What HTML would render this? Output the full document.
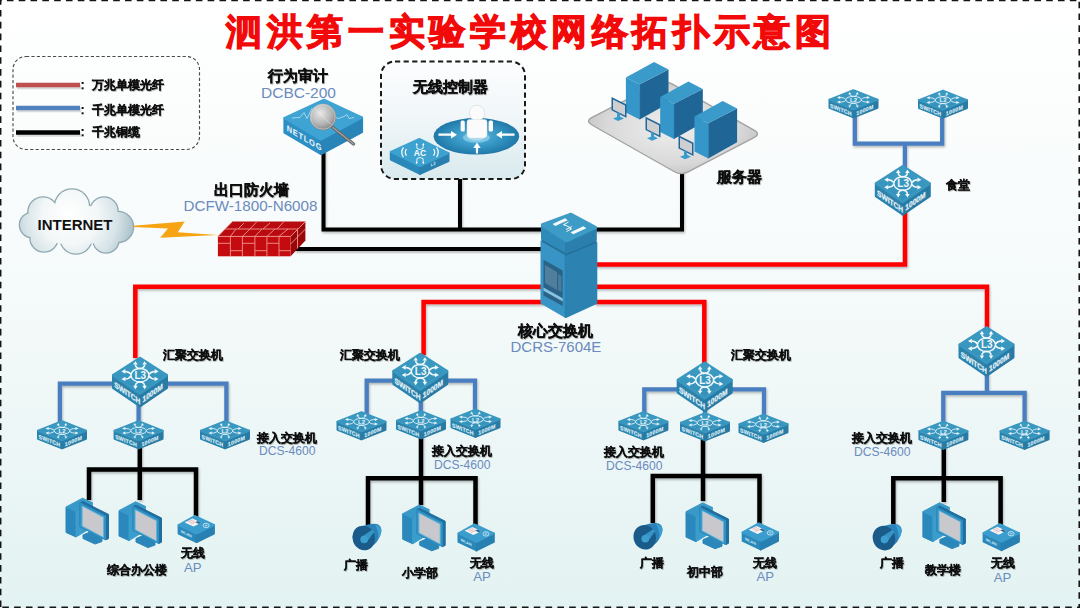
<!DOCTYPE html>
<html><head><meta charset="utf-8">
<style>
html,body{margin:0;padding:0;width:1080px;height:608px;overflow:hidden;background:#fff;}
svg{display:block;font-family:"Liberation Sans",sans-serif;}
.cn{font-weight:bold;fill:#111;stroke:#111;stroke-width:0.35px;filter:url(#tsh);}
.md{fill:#6b8abd;}
.s{stroke-width:0.25px;}
</style></head><body>
<svg width="1080" height="608" viewBox="0 0 1080 608">
<defs>
<linearGradient id="bg" x1="0" y1="0" x2="0" y2="1">
<stop offset="0" stop-color="#ffffff"/>
<stop offset="0.3" stop-color="#f9fcfc"/>
<stop offset="0.55" stop-color="#f3f9f9"/>
<stop offset="0.8" stop-color="#eaf5f5"/>
<stop offset="1" stop-color="#e3f2f2"/>
</linearGradient>
<linearGradient id="topg" x1="0" y1="0" x2="0" y2="1">
<stop offset="0" stop-color="#3e9dc4"/>
<stop offset="1" stop-color="#3290b9"/>
</linearGradient>
<radialGradient id="cloudg" cx="0.45" cy="0.45" r="0.6">
<stop offset="0" stop-color="#ffffff"/>
<stop offset="0.6" stop-color="#eef4f6"/>
<stop offset="1" stop-color="#b9ccd3"/>
</radialGradient>
<radialGradient id="cloudg2" gradientUnits="userSpaceOnUse" cx="72" cy="220" r="62" fx="68" fy="214">
<stop offset="0" stop-color="#ffffff"/>
<stop offset="0.45" stop-color="#f3f7f8"/>
<stop offset="0.75" stop-color="#d6e3e7"/>
<stop offset="1" stop-color="#a9c1c9"/>
</radialGradient>
<linearGradient id="wcg" x1="0" y1="0" x2="0" y2="1">
<stop offset="0" stop-color="#fcfdfe"/>
<stop offset="0.5" stop-color="#f0f6f8"/>
<stop offset="1" stop-color="#d9eaee"/>
</linearGradient>
<radialGradient id="sphere" cx="0.4" cy="0.35" r="0.7">
<stop offset="0" stop-color="#e8e8e8"/>
<stop offset="0.6" stop-color="#b5b5b5"/>
<stop offset="1" stop-color="#7d7d7d"/>
</radialGradient>
<radialGradient id="discg" cx="0.5" cy="0.5" r="0.5">
<stop offset="0" stop-color="#5fb8dc"/>
<stop offset="0.55" stop-color="#3596c4"/>
<stop offset="1" stop-color="#1f78a8"/>
</radialGradient>
<radialGradient id="platg" cx="0.5" cy="0.5" r="0.6">
<stop offset="0" stop-color="#efefef"/>
<stop offset="0.65" stop-color="#d9d9d9"/>
<stop offset="1" stop-color="#bcbcbc"/>
</radialGradient>
<filter id="lsh" x="-5%" y="-5%" width="110%" height="110%">
<feDropShadow dx="0.8" dy="1.6" stdDeviation="0.9" flood-color="#000" flood-opacity="0.28"/>
</filter>
<filter id="tsh" x="-10%" y="-20%" width="120%" height="150%">
<feDropShadow dx="0.7" dy="0.9" stdDeviation="0.7" flood-color="#000" flood-opacity="0.3"/>
</filter>
<marker id="ah" viewBox="0 0 4 4" refX="2" refY="2" markerWidth="2.6" markerHeight="2.6" orient="auto-start-reverse">
<path d="M0,0 L4,2 L0,4 Z" fill="#fff"/>
</marker>
<marker id="ah2" viewBox="0 0 4 4" refX="2" refY="2" markerWidth="2.8" markerHeight="2.8" orient="auto-start-reverse">
<path d="M0,0 L4,2 L0,4 Z" fill="#fff"/>
</marker>

<!-- L3 switch: origin at ellipse centre -->


<!-- L2 switch: origin at ellipse centre -->


<!-- PC: origin = bbox top-left, approx 43x46 -->


<!-- AP: origin = top-face centre -->


<!-- speaker: origin = bbox top-left approx 29x27 -->

</defs>

<rect x="0" y="0" width="1080" height="608" fill="url(#bg)"/>
<!-- title -->
<text x="226" y="43.7" font-size="36" font-weight="bold" letter-spacing="4.65" fill="#f20a0a" stroke="#f20a0a" stroke-width="1.3">泗洪第一实验学校网络拓扑示意图</text>

<!-- legend -->
<rect x="13" y="56.5" width="186.5" height="93" rx="13" fill="none" stroke="#4a4a4a" stroke-width="1.15" stroke-dasharray="3.2 2.2"/>
<g stroke-width="4.5">
<line x1="17" y1="87" x2="81" y2="87" stroke="#999" opacity="0.35"/>
<line x1="16" y1="85" x2="80" y2="85" stroke="#c0504d"/>
<line x1="17" y1="110" x2="81" y2="110" stroke="#999" opacity="0.35"/>
<line x1="16" y1="108" x2="80" y2="108" stroke="#4f81bd"/>
<line x1="17" y1="134.5" x2="81" y2="134.5" stroke="#999" opacity="0.35"/>
<line x1="16" y1="132.5" x2="80" y2="132.5" stroke="#000"/>
</g>
<g fill="#111">
<rect x="81.6" y="82" width="2" height="2"/><rect x="81.6" y="87.3" width="2" height="2"/>
<rect x="81.6" y="107" width="2" height="2"/><rect x="81.6" y="112.3" width="2" height="2"/>
<rect x="81.6" y="129" width="2" height="2"/><rect x="81.6" y="134.3" width="2" height="2"/>
</g>
<g class="cn s" font-size="12">
<text x="92" y="89">万兆单模光纤</text>
<text x="92" y="114">千兆单模光纤</text>
<text x="92" y="136">千兆铜缆</text>
</g>

<!-- lines black -->
<g stroke="#000" stroke-width="4" fill="none" filter="url(#lsh)">
<path d="M323.5,150 V229.5 H545"/>
<path d="M460,176 V229.5"/>
<path d="M295,249 H545"/>
<path d="M682,170 V229.5 H595"/>
</g>
<!-- red lines -->
<g stroke="#f00" stroke-width="4.5" fill="none" filter="url(#lsh)">
<path d="M595,264.4 H905 V200"/>
<path d="M545,286.8 H135.3 V358"/>
<path d="M595,286.8 H987 V330"/>
<path d="M545,302.1 H423.6 V355"/>
<path d="M595,302.1 H704.3 V365"/>
</g>
<!-- blue lines -->
<g stroke="#4a7ec0" stroke-width="4.3" fill="none" filter="url(#lsh)">
<path d="M854.8,100 V143.7 H942.2 V100"/>
<path d="M904.9,143.7 V175"/>
<path d="M59.9,428 V383.6 H226.4 V428"/>
<path d="M138.6,395 V428"/>
<path d="M366.7,419 V380.6 H475 V419"/>
<path d="M420.8,395 V419"/>
<path d="M644.3,419 V389.4 H764 V419"/>
<path d="M705,400 V419"/>
<path d="M943.3,428 V392.8 H1024.6 V428"/>
<path d="M986.9,370 V392.8"/>
</g>
<!-- black access lines -->
<g stroke="#000" stroke-width="4.5" fill="none" filter="url(#lsh)">
<path d="M89,500 V469.6 H196 V517"/>
<path d="M139.8,440 V500"/>
<path d="M368,525 V478.2 H475.5 V525"/>
<path d="M421,430 V505"/>
<path d="M652.8,523 V476 H759.5 V524"/>
<path d="M703,430 V501"/>
<path d="M893.3,524 V478.2 H1000.6 V525"/>
<path d="M943.8,440 V502"/>
</g>

<!-- cloud -->
<g>
<g fill="#8fa9b3">
<circle cx="43" cy="212" r="15.8"/><circle cx="72" cy="206.5" r="18.3"/><circle cx="104" cy="211" r="14.8"/><circle cx="118" cy="227" r="16.3"/><circle cx="106" cy="240" r="13.8"/><circle cx="76" cy="238" r="16.8"/><circle cx="44" cy="238" r="14.8"/><circle cx="32" cy="225" r="13.3"/>
</g>
<g fill="url(#cloudg2)">
<circle cx="43" cy="212" r="14.5"/><circle cx="72" cy="206.5" r="17"/><circle cx="104" cy="211" r="13.5"/><circle cx="118" cy="227" r="15"/><circle cx="106" cy="240" r="12.5"/><circle cx="76" cy="238" r="15.5"/><circle cx="44" cy="238" r="13.5"/><circle cx="32" cy="225" r="12"/><ellipse cx="76" cy="225" rx="44" ry="20"/>
</g>
</g>
<text font-size="15" font-weight="bold" x="37.5" y="230.2" fill="#111">INTERNET</text>
<!-- bolt -->
<path d="M133.3,225.7 L184.7,221.6 L177.8,232.2 L217.6,235 L160.2,237.8 L168,228.5 L133.3,226.9 Z" fill="#f6a413"/>

<!-- firewall -->
<g stroke-linejoin="round">
<path d="M217.9,236.4 L232.2,221.6 L305.4,221.6 L290.6,236.4 Z" fill="#b80a0f"/>
<path d="M290.6,236.4 L305.4,221.6 L305.4,240.5 L290.6,256.3 Z" fill="#9a0709"/>
<rect x="217.9" y="236.4" width="72.7" height="19.9" fill="#c30b10"/>
<g stroke="#f3938f" stroke-width="0.9" fill="none">
<path d="M217.9,236.4 H290.6 L305.4,221.6"/>
<path d="M230.4,236.4 V256.3 M242.4,236.4 V256.3 M254.9,236.4 V256.3 M266.9,236.4 V256.3 M279,236.4 V256.3"/>
<path d="M217.9,243.3 H230.4 M242.4,243.3 H254.9 M266.9,243.3 H279"/>
<path d="M230.4,250.7 H242.4 M254.9,250.7 H266.9 M279,250.7 H290.6"/>
<path d="M225,229 H298 M232.5,221.6 L217.9,236.4"/>
<path d="M244,223 L238,229 M257,221.6 L250,229 M270,223 L263,229 M284,221.6 L277,229"/>
<path d="M236,229 L230.4,236.4 M250,229 L242.4,236.4 M262,229 L254.9,236.4 M275,229 L266.9,236.4 M288,229 L279,236.4"/>
<path d="M297.5,229.5 V248.5 M290.6,244 L305.4,229"/>
</g>
</g>

<!-- NETLOG -->
<g stroke-linejoin="round" stroke-width="2.2">
<path d="M284.5,118 L321,139.5 L321,154 L284.5,132.5 Z" fill="#2d8fc4" stroke="#2d8fc4"/>
<path d="M362,117.5 L321,139.5 L321,154 L362,132 Z" fill="#2984b8" stroke="#2984b8"/>
<path d="M324,99.8 L362,117.5 L321,139.5 L284.5,118 Z" fill="#3fa3d3" stroke="#3fa3d3"/>
</g>
<path d="M292,118 L300,117.5 L304,112.5 L307,118.5 L312,108.5 L317,118.5 L330,114.5 L338,118.5 L344,116.5 L347,114.5 L349,118.5 L354,117.5" fill="none" stroke="#cfe9f5" stroke-width="0.7"/>
<text transform="matrix(0.862,0.507,0,1,284.5,118)" x="2.5" y="11.5" font-size="8.6" font-weight="bold" fill="#f2f8fb" letter-spacing="0.9">NETLOG</text>
<line x1="333" y1="127.5" x2="353.5" y2="144" stroke="#666" stroke-width="3.4" stroke-linecap="round"/>
<line x1="333" y1="127.5" x2="353.5" y2="144" stroke="#a5a5a5" stroke-width="1.2" stroke-linecap="round"/>
<circle cx="323" cy="117" r="13.2" fill="url(#sphere)"/>
<circle cx="323" cy="117" r="12.2" fill="none" stroke="#d9d9d9" stroke-width="0.8" opacity="0.7"/>
<path d="M314,107.5 L331,124.5" stroke="#eee" stroke-width="0.7" opacity="0.8"/>

<!-- wireless controller box -->
<rect x="381" y="61.5" width="144" height="117.5" rx="14" fill="url(#wcg)" stroke="#1a1a1a" stroke-width="2" stroke-dasharray="5.2 3.4"/>
<ellipse cx="476.4" cy="136.3" rx="42.8" ry="18.3" fill="url(#discg)"/>
<ellipse cx="476.4" cy="137.6" rx="13.5" ry="5.2" fill="#7cc6e6"/>
<ellipse cx="476.4" cy="137.6" rx="8" ry="3" fill="#a8daf0"/>
<circle cx="477" cy="113" r="7.8" fill="#fbfbfb" stroke="#cfd6d9" stroke-width="0.6"/>
<path d="M469.5,119.5 H484.5 Q487,119.5 487,122 V134.5 Q487,138 483,138 H470.5 Q467,138 467,134.5 V122 Q467,119.5 469.5,119.5 Z" fill="#fbfbfb" stroke="#d5dcdf" stroke-width="0.5"/>
<rect x="460.6" y="120.5" width="4.2" height="11" rx="1.6" fill="#fbfbfb"/>
<rect x="488.6" y="120.5" width="4.4" height="11" rx="1.6" fill="#fbfbfb"/>
<g fill="#fff">
<path d="M438.5,133.6 H451 V131 L457,134.7 L451,138.4 V135.8 H438.5 Z"/>
<path d="M514.5,133.6 H502 V131 L496,134.7 L502,138.4 V135.8 H514.5 Z"/>
<path d="M475.9,153.5 V148 H473.3 L477,142.5 L480.7,148 H478.1 V153.5 Z"/>
</g>
<g stroke-linejoin="round" stroke-width="2">
<path d="M390.8,151.9 L420,166.1 L420,173.9 L390.8,159.6 Z" fill="#2b88ba" stroke="#2b88ba"/>
<path d="M448.5,153.2 L420,166.1 L420,173.9 L448.5,161 Z" fill="#2980b0" stroke="#2980b0"/>
<path d="M419.4,138.9 L448.5,153.2 L420,166.1 L390.8,151.9 Z" fill="#3ea2d0" stroke="#3ea2d0"/>
</g>
<text x="420" y="156" font-size="8.5" font-weight="bold" fill="#fff" text-anchor="middle">AC</text>
<g fill="none" stroke="#fff" stroke-width="1.2">
<path d="M406.5,149 Q404,152.3 406.5,155.6 M403.5,147.4 Q400,152.3 403.5,157.2"/>
<path d="M433.5,149 Q436,152.3 433.5,155.6 M436.5,147.4 Q440,152.3 436.5,157.2"/>
</g>
<g fill="none" stroke="#fff" stroke-width="0.9" marker-end="url(#ah)">
<path d="M417,148.5 Q417,146 416.5,144"/><path d="M423,148.5 Q423,146 423.5,144"/>
<path d="M417,158.5 Q417,161 416.5,163"/><path d="M423,158.5 Q423,161 423.5,163"/>
</g>
<path d="M417,148.5 Q420,150.5 423,148.5 M417,158.5 Q420,156.5 423,158.5" fill="none" stroke="#fff" stroke-width="0.9"/>
<text transform="matrix(0.9,-0.44,0,1,420,166)" x="12" y="6" font-size="4.5" font-weight="bold" fill="#d8ecf5">L3</text>

<!-- servers platform -->
<path d="M592,125 L674,171.5 Q681,175.5 688.1,171.8 L753.9,137.7 Q761,134 754,130.1 L672,83.9 Q665,80 657.9,83.6 L592.1,117.4 Q585,121 592,125 Z" fill="url(#platg)" stroke="#a2a2a2" stroke-width="1.3"/>
<g>
<path d="M625.9,77.4 L639.7,84.3 L639.7,119.4 L625.9,112.5 Z" fill="#3597c9"/>
<path d="M639.7,84.3 L668.5,69.4 L668.5,103.3 L639.7,119.4 Z" fill="#1f6696"/>
<path d="M625.9,77.4 L654.1,61.9 L668.5,69.4 L639.7,84.3 Z" fill="#3a9bcb"/>
<path d="M639.7,84.3 L639.7,119.4" stroke="#2a7fb0" stroke-width="0.6"/>
</g>
<g transform="translate(34.3,19.5)">
<path d="M625.9,77.4 L639.7,84.3 L639.7,119.4 L625.9,112.5 Z" fill="#3597c9"/>
<path d="M639.7,84.3 L668.5,69.4 L668.5,103.3 L639.7,119.4 Z" fill="#1f6696"/>
<path d="M625.9,77.4 L654.1,61.9 L668.5,69.4 L639.7,84.3 Z" fill="#3a9bcb"/>
<path d="M639.7,84.3 L639.7,119.4" stroke="#2a7fb0" stroke-width="0.6"/>
</g>
<g transform="translate(68.6,39)">
<path d="M625.9,77.4 L639.7,84.3 L639.7,119.4 L625.9,112.5 Z" fill="#3597c9"/>
<path d="M639.7,84.3 L668.5,69.4 L668.5,103.3 L639.7,119.4 Z" fill="#1f6696"/>
<path d="M625.9,77.4 L654.1,61.9 L668.5,69.4 L639.7,84.3 Z" fill="#3a9bcb"/>
<path d="M639.7,84.3 L639.7,119.4" stroke="#2a7fb0" stroke-width="0.6"/>
</g>
<g>
<path d="M611.5,97 L626.5,104.5 L626.5,117.7 L611.5,110.2 Z" fill="#20679a"/>
<path d="M613,99.5 L625,105.5 L625,115.5 L613,109.5 Z" fill="#cfcfd2"/>
<path d="M616,111.5 L620,113.5 L620,116.5 L624,118.5 L618,121 L613,118.5 L617,117 L617,112 Z" fill="#3a9ccc"/>
</g>
<g transform="translate(34,19.7)">
<path d="M611.5,97 L626.5,104.5 L626.5,117.7 L611.5,110.2 Z" fill="#20679a"/>
<path d="M613,99.5 L625,105.5 L625,115.5 L613,109.5 Z" fill="#cfcfd2"/>
<path d="M616,111.5 L620,113.5 L620,116.5 L624,118.5 L618,121 L613,118.5 L617,117 L617,112 Z" fill="#3a9ccc"/>
</g>
<g transform="translate(67,38.2)">
<path d="M611.5,97 L626.5,104.5 L626.5,117.7 L611.5,110.2 Z" fill="#20679a"/>
<path d="M613,99.5 L625,105.5 L625,115.5 L613,109.5 Z" fill="#cfcfd2"/>
<path d="M616,111.5 L620,113.5 L620,116.5 L624,118.5 L618,121 L613,118.5 L617,117 L617,112 Z" fill="#3a9ccc"/>
</g>

<!-- core switch -->
<g stroke-linejoin="round">
<path d="M541.5,241.5 L565.6,255 L565.6,317 L541.5,303 Z" fill="#3894c4" stroke="#3894c4" stroke-width="2"/>
<path d="M596.3,242.5 L565.6,255 L565.6,317 L596.3,303 Z" fill="#2c83b2" stroke="#2c83b2" stroke-width="2"/>
<path d="M543.5,259.8 L562.7,270.6 L562.7,306 L543.5,295.4 Z" fill="#2a6288"/>
<path d="M545,265 L557,272 L557,290 L545,283 Z" fill="#6b93ad" opacity="0.6"/>
<path d="M558,274 L561.5,276 L561.5,292 L558,290 Z" fill="#6b93ad" opacity="0.5"/>
<path d="M543.5,287.5 L562.7,298.2 L562.7,301.5 L543.5,290.8 Z" fill="#86c3e0"/>
<path d="M541.5,238 L566,252 L596.3,240 L596.3,243 L566,255.5 L541.5,241.5 Z" fill="#24709a"/>
<path d="M542.5,225 L566.5,240.6 L566.5,252 L542.5,238.5 Z" fill="#2f8aba" stroke="#2f8aba" stroke-width="3"/>
<path d="M595.3,227.5 L566.5,240.6 L566.5,252 L595.3,240 Z" fill="#2a7fad" stroke="#2a7fad" stroke-width="3"/>
<path d="M571,214.5 L595.3,227.5 L566.5,240.6 L542.5,225 Z" fill="#3d9cc6" stroke="#3d9cc6" stroke-width="3.5"/>
</g>
<g fill="#f4f8fa">
<path d="M552.5,224 L565,218.2 L567.8,220.2 L555.3,226 Z"/>
<path d="M570.5,232.3 L583.5,226.2 L586.3,228.2 L573.3,234.3 Z"/>
</g>
<g stroke="#f4f8fa" stroke-width="1" fill="none">
<path d="M564,224.5 L570,227.5 M566,229.5 L572,226.5"/>
<path d="M568.5,222 L563.5,224.7 L565.5,225.5 M566.5,231.5 L571.5,229 L569.5,228"/>
</g>

<!-- switches -->
<g transform="translate(853.5,99.8)">
<g stroke-linejoin="round" stroke-width="2">
<path d="M-24,0 L0,9.5 L0,17.5 L-24,8 Z" fill="#2b82ab" stroke="#2b82ab"/>
<path d="M24,0 L0,9.5 L0,17.5 L24,8 Z" fill="#287ba4" stroke="#287ba4"/>
<path d="M0,-9.5 L24,0 L0,9.5 L-24,0 Z" fill="url(#topg)" stroke="#3a98c0"/>
</g>
<g transform=""><g fill="none" stroke="#e8f4fa" stroke-width="0.9"><path d="M0,-3.4 C-2,-3.6 -3.8,-4.4 -3.8,-5.8"/><path d="M-7.8,-0.5 C-9,-1.8 -11,-2.3 -13.5,-2.3"/></g><g fill="#e8f4fa"><path d="M-3.8,-7.8 L-5.3,-5.6 L-2.3,-5.6 Z"/><path d="M-16.5,-2.3 L-13.3,-3.8 L-13.3,-0.8 Z"/></g></g>
<g transform="scale(-1,1)"><g fill="none" stroke="#e8f4fa" stroke-width="0.9"><path d="M0,-3.4 C-2,-3.6 -3.8,-4.4 -3.8,-5.8"/><path d="M-7.8,-0.5 C-9,-1.8 -11,-2.3 -13.5,-2.3"/></g><g fill="#e8f4fa"><path d="M-3.8,-7.8 L-5.3,-5.6 L-2.3,-5.6 Z"/><path d="M-16.5,-2.3 L-13.3,-3.8 L-13.3,-0.8 Z"/></g></g>
<g transform="scale(1,-1)"><g fill="none" stroke="#e8f4fa" stroke-width="0.9"><path d="M0,-3.4 C-2,-3.6 -3.8,-4.4 -3.8,-5.8"/><path d="M-7.8,-0.5 C-9,-1.8 -11,-2.3 -13.5,-2.3"/></g><g fill="#e8f4fa"><path d="M-3.8,-7.8 L-5.3,-5.6 L-2.3,-5.6 Z"/><path d="M-16.5,-2.3 L-13.3,-3.8 L-13.3,-0.8 Z"/></g></g>
<g transform="scale(-1,-1)"><g fill="none" stroke="#e8f4fa" stroke-width="0.9"><path d="M0,-3.4 C-2,-3.6 -3.8,-4.4 -3.8,-5.8"/><path d="M-7.8,-0.5 C-9,-1.8 -11,-2.3 -13.5,-2.3"/></g><g fill="#e8f4fa"><path d="M-3.8,-7.8 L-5.3,-5.6 L-2.3,-5.6 Z"/><path d="M-16.5,-2.3 L-13.3,-3.8 L-13.3,-0.8 Z"/></g></g>
<ellipse cx="0" cy="0" rx="7.8" ry="3.4" fill="none" stroke="#e8f4fa" stroke-width="0.9"/>
<text x="0" y="2.2" font-size="6" font-weight="bold" fill="#e8f4fa" text-anchor="middle">L2</text>
<text transform="matrix(0.930,0.368,0,1,-24.5,0)" x="1.2" y="7.2" font-size="5.6" font-weight="bold" letter-spacing="0.2" fill="#dcedf6" stroke="#dcedf6" stroke-width="0.15">SWITCH</text>
<text transform="matrix(0.930,-0.368,0,1,0,9.5)" x="3" y="7.2" font-size="5.6" font-weight="bold" letter-spacing="0.3" fill="#dcedf6" stroke="#dcedf6" stroke-width="0.15">1000M</text>
</g>
<g transform="translate(943,100.1)">
<g stroke-linejoin="round" stroke-width="2">
<path d="M-24,0 L0,9.5 L0,17.5 L-24,8 Z" fill="#2b82ab" stroke="#2b82ab"/>
<path d="M24,0 L0,9.5 L0,17.5 L24,8 Z" fill="#287ba4" stroke="#287ba4"/>
<path d="M0,-9.5 L24,0 L0,9.5 L-24,0 Z" fill="url(#topg)" stroke="#3a98c0"/>
</g>
<g transform=""><g fill="none" stroke="#e8f4fa" stroke-width="0.9"><path d="M0,-3.4 C-2,-3.6 -3.8,-4.4 -3.8,-5.8"/><path d="M-7.8,-0.5 C-9,-1.8 -11,-2.3 -13.5,-2.3"/></g><g fill="#e8f4fa"><path d="M-3.8,-7.8 L-5.3,-5.6 L-2.3,-5.6 Z"/><path d="M-16.5,-2.3 L-13.3,-3.8 L-13.3,-0.8 Z"/></g></g>
<g transform="scale(-1,1)"><g fill="none" stroke="#e8f4fa" stroke-width="0.9"><path d="M0,-3.4 C-2,-3.6 -3.8,-4.4 -3.8,-5.8"/><path d="M-7.8,-0.5 C-9,-1.8 -11,-2.3 -13.5,-2.3"/></g><g fill="#e8f4fa"><path d="M-3.8,-7.8 L-5.3,-5.6 L-2.3,-5.6 Z"/><path d="M-16.5,-2.3 L-13.3,-3.8 L-13.3,-0.8 Z"/></g></g>
<g transform="scale(1,-1)"><g fill="none" stroke="#e8f4fa" stroke-width="0.9"><path d="M0,-3.4 C-2,-3.6 -3.8,-4.4 -3.8,-5.8"/><path d="M-7.8,-0.5 C-9,-1.8 -11,-2.3 -13.5,-2.3"/></g><g fill="#e8f4fa"><path d="M-3.8,-7.8 L-5.3,-5.6 L-2.3,-5.6 Z"/><path d="M-16.5,-2.3 L-13.3,-3.8 L-13.3,-0.8 Z"/></g></g>
<g transform="scale(-1,-1)"><g fill="none" stroke="#e8f4fa" stroke-width="0.9"><path d="M0,-3.4 C-2,-3.6 -3.8,-4.4 -3.8,-5.8"/><path d="M-7.8,-0.5 C-9,-1.8 -11,-2.3 -13.5,-2.3"/></g><g fill="#e8f4fa"><path d="M-3.8,-7.8 L-5.3,-5.6 L-2.3,-5.6 Z"/><path d="M-16.5,-2.3 L-13.3,-3.8 L-13.3,-0.8 Z"/></g></g>
<ellipse cx="0" cy="0" rx="7.8" ry="3.4" fill="none" stroke="#e8f4fa" stroke-width="0.9"/>
<text x="0" y="2.2" font-size="6" font-weight="bold" fill="#e8f4fa" text-anchor="middle">L2</text>
<text transform="matrix(0.930,0.368,0,1,-24.5,0)" x="1.2" y="7.2" font-size="5.6" font-weight="bold" letter-spacing="0.2" fill="#dcedf6" stroke="#dcedf6" stroke-width="0.15">SWITCH</text>
<text transform="matrix(0.930,-0.368,0,1,0,9.5)" x="3" y="7.2" font-size="5.6" font-weight="bold" letter-spacing="0.3" fill="#dcedf6" stroke="#dcedf6" stroke-width="0.15">1000M</text>
</g>
<g transform="translate(62,430.8)">
<g stroke-linejoin="round" stroke-width="2">
<path d="M-24,0 L0,9.5 L0,17.5 L-24,8 Z" fill="#2b82ab" stroke="#2b82ab"/>
<path d="M24,0 L0,9.5 L0,17.5 L24,8 Z" fill="#287ba4" stroke="#287ba4"/>
<path d="M0,-9.5 L24,0 L0,9.5 L-24,0 Z" fill="url(#topg)" stroke="#3a98c0"/>
</g>
<g transform=""><g fill="none" stroke="#e8f4fa" stroke-width="0.9"><path d="M0,-3.4 C-2,-3.6 -3.8,-4.4 -3.8,-5.8"/><path d="M-7.8,-0.5 C-9,-1.8 -11,-2.3 -13.5,-2.3"/></g><g fill="#e8f4fa"><path d="M-3.8,-7.8 L-5.3,-5.6 L-2.3,-5.6 Z"/><path d="M-16.5,-2.3 L-13.3,-3.8 L-13.3,-0.8 Z"/></g></g>
<g transform="scale(-1,1)"><g fill="none" stroke="#e8f4fa" stroke-width="0.9"><path d="M0,-3.4 C-2,-3.6 -3.8,-4.4 -3.8,-5.8"/><path d="M-7.8,-0.5 C-9,-1.8 -11,-2.3 -13.5,-2.3"/></g><g fill="#e8f4fa"><path d="M-3.8,-7.8 L-5.3,-5.6 L-2.3,-5.6 Z"/><path d="M-16.5,-2.3 L-13.3,-3.8 L-13.3,-0.8 Z"/></g></g>
<g transform="scale(1,-1)"><g fill="none" stroke="#e8f4fa" stroke-width="0.9"><path d="M0,-3.4 C-2,-3.6 -3.8,-4.4 -3.8,-5.8"/><path d="M-7.8,-0.5 C-9,-1.8 -11,-2.3 -13.5,-2.3"/></g><g fill="#e8f4fa"><path d="M-3.8,-7.8 L-5.3,-5.6 L-2.3,-5.6 Z"/><path d="M-16.5,-2.3 L-13.3,-3.8 L-13.3,-0.8 Z"/></g></g>
<g transform="scale(-1,-1)"><g fill="none" stroke="#e8f4fa" stroke-width="0.9"><path d="M0,-3.4 C-2,-3.6 -3.8,-4.4 -3.8,-5.8"/><path d="M-7.8,-0.5 C-9,-1.8 -11,-2.3 -13.5,-2.3"/></g><g fill="#e8f4fa"><path d="M-3.8,-7.8 L-5.3,-5.6 L-2.3,-5.6 Z"/><path d="M-16.5,-2.3 L-13.3,-3.8 L-13.3,-0.8 Z"/></g></g>
<ellipse cx="0" cy="0" rx="7.8" ry="3.4" fill="none" stroke="#e8f4fa" stroke-width="0.9"/>
<text x="0" y="2.2" font-size="6" font-weight="bold" fill="#e8f4fa" text-anchor="middle">L2</text>
<text transform="matrix(0.930,0.368,0,1,-24.5,0)" x="1.2" y="7.2" font-size="5.6" font-weight="bold" letter-spacing="0.2" fill="#dcedf6" stroke="#dcedf6" stroke-width="0.15">SWITCH</text>
<text transform="matrix(0.930,-0.368,0,1,0,9.5)" x="3" y="7.2" font-size="5.6" font-weight="bold" letter-spacing="0.3" fill="#dcedf6" stroke="#dcedf6" stroke-width="0.15">1000M</text>
</g>
<g transform="translate(138.6,430.8)">
<g stroke-linejoin="round" stroke-width="2">
<path d="M-24,0 L0,9.5 L0,17.5 L-24,8 Z" fill="#2b82ab" stroke="#2b82ab"/>
<path d="M24,0 L0,9.5 L0,17.5 L24,8 Z" fill="#287ba4" stroke="#287ba4"/>
<path d="M0,-9.5 L24,0 L0,9.5 L-24,0 Z" fill="url(#topg)" stroke="#3a98c0"/>
</g>
<g transform=""><g fill="none" stroke="#e8f4fa" stroke-width="0.9"><path d="M0,-3.4 C-2,-3.6 -3.8,-4.4 -3.8,-5.8"/><path d="M-7.8,-0.5 C-9,-1.8 -11,-2.3 -13.5,-2.3"/></g><g fill="#e8f4fa"><path d="M-3.8,-7.8 L-5.3,-5.6 L-2.3,-5.6 Z"/><path d="M-16.5,-2.3 L-13.3,-3.8 L-13.3,-0.8 Z"/></g></g>
<g transform="scale(-1,1)"><g fill="none" stroke="#e8f4fa" stroke-width="0.9"><path d="M0,-3.4 C-2,-3.6 -3.8,-4.4 -3.8,-5.8"/><path d="M-7.8,-0.5 C-9,-1.8 -11,-2.3 -13.5,-2.3"/></g><g fill="#e8f4fa"><path d="M-3.8,-7.8 L-5.3,-5.6 L-2.3,-5.6 Z"/><path d="M-16.5,-2.3 L-13.3,-3.8 L-13.3,-0.8 Z"/></g></g>
<g transform="scale(1,-1)"><g fill="none" stroke="#e8f4fa" stroke-width="0.9"><path d="M0,-3.4 C-2,-3.6 -3.8,-4.4 -3.8,-5.8"/><path d="M-7.8,-0.5 C-9,-1.8 -11,-2.3 -13.5,-2.3"/></g><g fill="#e8f4fa"><path d="M-3.8,-7.8 L-5.3,-5.6 L-2.3,-5.6 Z"/><path d="M-16.5,-2.3 L-13.3,-3.8 L-13.3,-0.8 Z"/></g></g>
<g transform="scale(-1,-1)"><g fill="none" stroke="#e8f4fa" stroke-width="0.9"><path d="M0,-3.4 C-2,-3.6 -3.8,-4.4 -3.8,-5.8"/><path d="M-7.8,-0.5 C-9,-1.8 -11,-2.3 -13.5,-2.3"/></g><g fill="#e8f4fa"><path d="M-3.8,-7.8 L-5.3,-5.6 L-2.3,-5.6 Z"/><path d="M-16.5,-2.3 L-13.3,-3.8 L-13.3,-0.8 Z"/></g></g>
<ellipse cx="0" cy="0" rx="7.8" ry="3.4" fill="none" stroke="#e8f4fa" stroke-width="0.9"/>
<text x="0" y="2.2" font-size="6" font-weight="bold" fill="#e8f4fa" text-anchor="middle">L2</text>
<text transform="matrix(0.930,0.368,0,1,-24.5,0)" x="1.2" y="7.2" font-size="5.6" font-weight="bold" letter-spacing="0.2" fill="#dcedf6" stroke="#dcedf6" stroke-width="0.15">SWITCH</text>
<text transform="matrix(0.930,-0.368,0,1,0,9.5)" x="3" y="7.2" font-size="5.6" font-weight="bold" letter-spacing="0.3" fill="#dcedf6" stroke="#dcedf6" stroke-width="0.15">1000M</text>
</g>
<g transform="translate(225,430.8)">
<g stroke-linejoin="round" stroke-width="2">
<path d="M-24,0 L0,9.5 L0,17.5 L-24,8 Z" fill="#2b82ab" stroke="#2b82ab"/>
<path d="M24,0 L0,9.5 L0,17.5 L24,8 Z" fill="#287ba4" stroke="#287ba4"/>
<path d="M0,-9.5 L24,0 L0,9.5 L-24,0 Z" fill="url(#topg)" stroke="#3a98c0"/>
</g>
<g transform=""><g fill="none" stroke="#e8f4fa" stroke-width="0.9"><path d="M0,-3.4 C-2,-3.6 -3.8,-4.4 -3.8,-5.8"/><path d="M-7.8,-0.5 C-9,-1.8 -11,-2.3 -13.5,-2.3"/></g><g fill="#e8f4fa"><path d="M-3.8,-7.8 L-5.3,-5.6 L-2.3,-5.6 Z"/><path d="M-16.5,-2.3 L-13.3,-3.8 L-13.3,-0.8 Z"/></g></g>
<g transform="scale(-1,1)"><g fill="none" stroke="#e8f4fa" stroke-width="0.9"><path d="M0,-3.4 C-2,-3.6 -3.8,-4.4 -3.8,-5.8"/><path d="M-7.8,-0.5 C-9,-1.8 -11,-2.3 -13.5,-2.3"/></g><g fill="#e8f4fa"><path d="M-3.8,-7.8 L-5.3,-5.6 L-2.3,-5.6 Z"/><path d="M-16.5,-2.3 L-13.3,-3.8 L-13.3,-0.8 Z"/></g></g>
<g transform="scale(1,-1)"><g fill="none" stroke="#e8f4fa" stroke-width="0.9"><path d="M0,-3.4 C-2,-3.6 -3.8,-4.4 -3.8,-5.8"/><path d="M-7.8,-0.5 C-9,-1.8 -11,-2.3 -13.5,-2.3"/></g><g fill="#e8f4fa"><path d="M-3.8,-7.8 L-5.3,-5.6 L-2.3,-5.6 Z"/><path d="M-16.5,-2.3 L-13.3,-3.8 L-13.3,-0.8 Z"/></g></g>
<g transform="scale(-1,-1)"><g fill="none" stroke="#e8f4fa" stroke-width="0.9"><path d="M0,-3.4 C-2,-3.6 -3.8,-4.4 -3.8,-5.8"/><path d="M-7.8,-0.5 C-9,-1.8 -11,-2.3 -13.5,-2.3"/></g><g fill="#e8f4fa"><path d="M-3.8,-7.8 L-5.3,-5.6 L-2.3,-5.6 Z"/><path d="M-16.5,-2.3 L-13.3,-3.8 L-13.3,-0.8 Z"/></g></g>
<ellipse cx="0" cy="0" rx="7.8" ry="3.4" fill="none" stroke="#e8f4fa" stroke-width="0.9"/>
<text x="0" y="2.2" font-size="6" font-weight="bold" fill="#e8f4fa" text-anchor="middle">L2</text>
<text transform="matrix(0.930,0.368,0,1,-24.5,0)" x="1.2" y="7.2" font-size="5.6" font-weight="bold" letter-spacing="0.2" fill="#dcedf6" stroke="#dcedf6" stroke-width="0.15">SWITCH</text>
<text transform="matrix(0.930,-0.368,0,1,0,9.5)" x="3" y="7.2" font-size="5.6" font-weight="bold" letter-spacing="0.3" fill="#dcedf6" stroke="#dcedf6" stroke-width="0.15">1000M</text>
</g>
<g transform="translate(361.5,421.8)">
<g stroke-linejoin="round" stroke-width="2">
<path d="M-24,0 L0,9.5 L0,17.5 L-24,8 Z" fill="#2b82ab" stroke="#2b82ab"/>
<path d="M24,0 L0,9.5 L0,17.5 L24,8 Z" fill="#287ba4" stroke="#287ba4"/>
<path d="M0,-9.5 L24,0 L0,9.5 L-24,0 Z" fill="url(#topg)" stroke="#3a98c0"/>
</g>
<g transform=""><g fill="none" stroke="#e8f4fa" stroke-width="0.9"><path d="M0,-3.4 C-2,-3.6 -3.8,-4.4 -3.8,-5.8"/><path d="M-7.8,-0.5 C-9,-1.8 -11,-2.3 -13.5,-2.3"/></g><g fill="#e8f4fa"><path d="M-3.8,-7.8 L-5.3,-5.6 L-2.3,-5.6 Z"/><path d="M-16.5,-2.3 L-13.3,-3.8 L-13.3,-0.8 Z"/></g></g>
<g transform="scale(-1,1)"><g fill="none" stroke="#e8f4fa" stroke-width="0.9"><path d="M0,-3.4 C-2,-3.6 -3.8,-4.4 -3.8,-5.8"/><path d="M-7.8,-0.5 C-9,-1.8 -11,-2.3 -13.5,-2.3"/></g><g fill="#e8f4fa"><path d="M-3.8,-7.8 L-5.3,-5.6 L-2.3,-5.6 Z"/><path d="M-16.5,-2.3 L-13.3,-3.8 L-13.3,-0.8 Z"/></g></g>
<g transform="scale(1,-1)"><g fill="none" stroke="#e8f4fa" stroke-width="0.9"><path d="M0,-3.4 C-2,-3.6 -3.8,-4.4 -3.8,-5.8"/><path d="M-7.8,-0.5 C-9,-1.8 -11,-2.3 -13.5,-2.3"/></g><g fill="#e8f4fa"><path d="M-3.8,-7.8 L-5.3,-5.6 L-2.3,-5.6 Z"/><path d="M-16.5,-2.3 L-13.3,-3.8 L-13.3,-0.8 Z"/></g></g>
<g transform="scale(-1,-1)"><g fill="none" stroke="#e8f4fa" stroke-width="0.9"><path d="M0,-3.4 C-2,-3.6 -3.8,-4.4 -3.8,-5.8"/><path d="M-7.8,-0.5 C-9,-1.8 -11,-2.3 -13.5,-2.3"/></g><g fill="#e8f4fa"><path d="M-3.8,-7.8 L-5.3,-5.6 L-2.3,-5.6 Z"/><path d="M-16.5,-2.3 L-13.3,-3.8 L-13.3,-0.8 Z"/></g></g>
<ellipse cx="0" cy="0" rx="7.8" ry="3.4" fill="none" stroke="#e8f4fa" stroke-width="0.9"/>
<text x="0" y="2.2" font-size="6" font-weight="bold" fill="#e8f4fa" text-anchor="middle">L2</text>
<text transform="matrix(0.930,0.368,0,1,-24.5,0)" x="1.2" y="7.2" font-size="5.6" font-weight="bold" letter-spacing="0.2" fill="#dcedf6" stroke="#dcedf6" stroke-width="0.15">SWITCH</text>
<text transform="matrix(0.930,-0.368,0,1,0,9.5)" x="3" y="7.2" font-size="5.6" font-weight="bold" letter-spacing="0.3" fill="#dcedf6" stroke="#dcedf6" stroke-width="0.15">1000M</text>
</g>
<g transform="translate(421,420.8)">
<g stroke-linejoin="round" stroke-width="2">
<path d="M-24,0 L0,9.5 L0,17.5 L-24,8 Z" fill="#2b82ab" stroke="#2b82ab"/>
<path d="M24,0 L0,9.5 L0,17.5 L24,8 Z" fill="#287ba4" stroke="#287ba4"/>
<path d="M0,-9.5 L24,0 L0,9.5 L-24,0 Z" fill="url(#topg)" stroke="#3a98c0"/>
</g>
<g transform=""><g fill="none" stroke="#e8f4fa" stroke-width="0.9"><path d="M0,-3.4 C-2,-3.6 -3.8,-4.4 -3.8,-5.8"/><path d="M-7.8,-0.5 C-9,-1.8 -11,-2.3 -13.5,-2.3"/></g><g fill="#e8f4fa"><path d="M-3.8,-7.8 L-5.3,-5.6 L-2.3,-5.6 Z"/><path d="M-16.5,-2.3 L-13.3,-3.8 L-13.3,-0.8 Z"/></g></g>
<g transform="scale(-1,1)"><g fill="none" stroke="#e8f4fa" stroke-width="0.9"><path d="M0,-3.4 C-2,-3.6 -3.8,-4.4 -3.8,-5.8"/><path d="M-7.8,-0.5 C-9,-1.8 -11,-2.3 -13.5,-2.3"/></g><g fill="#e8f4fa"><path d="M-3.8,-7.8 L-5.3,-5.6 L-2.3,-5.6 Z"/><path d="M-16.5,-2.3 L-13.3,-3.8 L-13.3,-0.8 Z"/></g></g>
<g transform="scale(1,-1)"><g fill="none" stroke="#e8f4fa" stroke-width="0.9"><path d="M0,-3.4 C-2,-3.6 -3.8,-4.4 -3.8,-5.8"/><path d="M-7.8,-0.5 C-9,-1.8 -11,-2.3 -13.5,-2.3"/></g><g fill="#e8f4fa"><path d="M-3.8,-7.8 L-5.3,-5.6 L-2.3,-5.6 Z"/><path d="M-16.5,-2.3 L-13.3,-3.8 L-13.3,-0.8 Z"/></g></g>
<g transform="scale(-1,-1)"><g fill="none" stroke="#e8f4fa" stroke-width="0.9"><path d="M0,-3.4 C-2,-3.6 -3.8,-4.4 -3.8,-5.8"/><path d="M-7.8,-0.5 C-9,-1.8 -11,-2.3 -13.5,-2.3"/></g><g fill="#e8f4fa"><path d="M-3.8,-7.8 L-5.3,-5.6 L-2.3,-5.6 Z"/><path d="M-16.5,-2.3 L-13.3,-3.8 L-13.3,-0.8 Z"/></g></g>
<ellipse cx="0" cy="0" rx="7.8" ry="3.4" fill="none" stroke="#e8f4fa" stroke-width="0.9"/>
<text x="0" y="2.2" font-size="6" font-weight="bold" fill="#e8f4fa" text-anchor="middle">L2</text>
<text transform="matrix(0.930,0.368,0,1,-24.5,0)" x="1.2" y="7.2" font-size="5.6" font-weight="bold" letter-spacing="0.2" fill="#dcedf6" stroke="#dcedf6" stroke-width="0.15">SWITCH</text>
<text transform="matrix(0.930,-0.368,0,1,0,9.5)" x="3" y="7.2" font-size="5.6" font-weight="bold" letter-spacing="0.3" fill="#dcedf6" stroke="#dcedf6" stroke-width="0.15">1000M</text>
</g>
<g transform="translate(475.5,419.3)">
<g stroke-linejoin="round" stroke-width="2">
<path d="M-24,0 L0,9.5 L0,17.5 L-24,8 Z" fill="#2b82ab" stroke="#2b82ab"/>
<path d="M24,0 L0,9.5 L0,17.5 L24,8 Z" fill="#287ba4" stroke="#287ba4"/>
<path d="M0,-9.5 L24,0 L0,9.5 L-24,0 Z" fill="url(#topg)" stroke="#3a98c0"/>
</g>
<g transform=""><g fill="none" stroke="#e8f4fa" stroke-width="0.9"><path d="M0,-3.4 C-2,-3.6 -3.8,-4.4 -3.8,-5.8"/><path d="M-7.8,-0.5 C-9,-1.8 -11,-2.3 -13.5,-2.3"/></g><g fill="#e8f4fa"><path d="M-3.8,-7.8 L-5.3,-5.6 L-2.3,-5.6 Z"/><path d="M-16.5,-2.3 L-13.3,-3.8 L-13.3,-0.8 Z"/></g></g>
<g transform="scale(-1,1)"><g fill="none" stroke="#e8f4fa" stroke-width="0.9"><path d="M0,-3.4 C-2,-3.6 -3.8,-4.4 -3.8,-5.8"/><path d="M-7.8,-0.5 C-9,-1.8 -11,-2.3 -13.5,-2.3"/></g><g fill="#e8f4fa"><path d="M-3.8,-7.8 L-5.3,-5.6 L-2.3,-5.6 Z"/><path d="M-16.5,-2.3 L-13.3,-3.8 L-13.3,-0.8 Z"/></g></g>
<g transform="scale(1,-1)"><g fill="none" stroke="#e8f4fa" stroke-width="0.9"><path d="M0,-3.4 C-2,-3.6 -3.8,-4.4 -3.8,-5.8"/><path d="M-7.8,-0.5 C-9,-1.8 -11,-2.3 -13.5,-2.3"/></g><g fill="#e8f4fa"><path d="M-3.8,-7.8 L-5.3,-5.6 L-2.3,-5.6 Z"/><path d="M-16.5,-2.3 L-13.3,-3.8 L-13.3,-0.8 Z"/></g></g>
<g transform="scale(-1,-1)"><g fill="none" stroke="#e8f4fa" stroke-width="0.9"><path d="M0,-3.4 C-2,-3.6 -3.8,-4.4 -3.8,-5.8"/><path d="M-7.8,-0.5 C-9,-1.8 -11,-2.3 -13.5,-2.3"/></g><g fill="#e8f4fa"><path d="M-3.8,-7.8 L-5.3,-5.6 L-2.3,-5.6 Z"/><path d="M-16.5,-2.3 L-13.3,-3.8 L-13.3,-0.8 Z"/></g></g>
<ellipse cx="0" cy="0" rx="7.8" ry="3.4" fill="none" stroke="#e8f4fa" stroke-width="0.9"/>
<text x="0" y="2.2" font-size="6" font-weight="bold" fill="#e8f4fa" text-anchor="middle">L2</text>
<text transform="matrix(0.930,0.368,0,1,-24.5,0)" x="1.2" y="7.2" font-size="5.6" font-weight="bold" letter-spacing="0.2" fill="#dcedf6" stroke="#dcedf6" stroke-width="0.15">SWITCH</text>
<text transform="matrix(0.930,-0.368,0,1,0,9.5)" x="3" y="7.2" font-size="5.6" font-weight="bold" letter-spacing="0.3" fill="#dcedf6" stroke="#dcedf6" stroke-width="0.15">1000M</text>
</g>
<g transform="translate(643.4,421.8)">
<g stroke-linejoin="round" stroke-width="2">
<path d="M-24,0 L0,9.5 L0,17.5 L-24,8 Z" fill="#2b82ab" stroke="#2b82ab"/>
<path d="M24,0 L0,9.5 L0,17.5 L24,8 Z" fill="#287ba4" stroke="#287ba4"/>
<path d="M0,-9.5 L24,0 L0,9.5 L-24,0 Z" fill="url(#topg)" stroke="#3a98c0"/>
</g>
<g transform=""><g fill="none" stroke="#e8f4fa" stroke-width="0.9"><path d="M0,-3.4 C-2,-3.6 -3.8,-4.4 -3.8,-5.8"/><path d="M-7.8,-0.5 C-9,-1.8 -11,-2.3 -13.5,-2.3"/></g><g fill="#e8f4fa"><path d="M-3.8,-7.8 L-5.3,-5.6 L-2.3,-5.6 Z"/><path d="M-16.5,-2.3 L-13.3,-3.8 L-13.3,-0.8 Z"/></g></g>
<g transform="scale(-1,1)"><g fill="none" stroke="#e8f4fa" stroke-width="0.9"><path d="M0,-3.4 C-2,-3.6 -3.8,-4.4 -3.8,-5.8"/><path d="M-7.8,-0.5 C-9,-1.8 -11,-2.3 -13.5,-2.3"/></g><g fill="#e8f4fa"><path d="M-3.8,-7.8 L-5.3,-5.6 L-2.3,-5.6 Z"/><path d="M-16.5,-2.3 L-13.3,-3.8 L-13.3,-0.8 Z"/></g></g>
<g transform="scale(1,-1)"><g fill="none" stroke="#e8f4fa" stroke-width="0.9"><path d="M0,-3.4 C-2,-3.6 -3.8,-4.4 -3.8,-5.8"/><path d="M-7.8,-0.5 C-9,-1.8 -11,-2.3 -13.5,-2.3"/></g><g fill="#e8f4fa"><path d="M-3.8,-7.8 L-5.3,-5.6 L-2.3,-5.6 Z"/><path d="M-16.5,-2.3 L-13.3,-3.8 L-13.3,-0.8 Z"/></g></g>
<g transform="scale(-1,-1)"><g fill="none" stroke="#e8f4fa" stroke-width="0.9"><path d="M0,-3.4 C-2,-3.6 -3.8,-4.4 -3.8,-5.8"/><path d="M-7.8,-0.5 C-9,-1.8 -11,-2.3 -13.5,-2.3"/></g><g fill="#e8f4fa"><path d="M-3.8,-7.8 L-5.3,-5.6 L-2.3,-5.6 Z"/><path d="M-16.5,-2.3 L-13.3,-3.8 L-13.3,-0.8 Z"/></g></g>
<ellipse cx="0" cy="0" rx="7.8" ry="3.4" fill="none" stroke="#e8f4fa" stroke-width="0.9"/>
<text x="0" y="2.2" font-size="6" font-weight="bold" fill="#e8f4fa" text-anchor="middle">L2</text>
<text transform="matrix(0.930,0.368,0,1,-24.5,0)" x="1.2" y="7.2" font-size="5.6" font-weight="bold" letter-spacing="0.2" fill="#dcedf6" stroke="#dcedf6" stroke-width="0.15">SWITCH</text>
<text transform="matrix(0.930,-0.368,0,1,0,9.5)" x="3" y="7.2" font-size="5.6" font-weight="bold" letter-spacing="0.3" fill="#dcedf6" stroke="#dcedf6" stroke-width="0.15">1000M</text>
</g>
<g transform="translate(705,422.8)">
<g stroke-linejoin="round" stroke-width="2">
<path d="M-24,0 L0,9.5 L0,17.5 L-24,8 Z" fill="#2b82ab" stroke="#2b82ab"/>
<path d="M24,0 L0,9.5 L0,17.5 L24,8 Z" fill="#287ba4" stroke="#287ba4"/>
<path d="M0,-9.5 L24,0 L0,9.5 L-24,0 Z" fill="url(#topg)" stroke="#3a98c0"/>
</g>
<g transform=""><g fill="none" stroke="#e8f4fa" stroke-width="0.9"><path d="M0,-3.4 C-2,-3.6 -3.8,-4.4 -3.8,-5.8"/><path d="M-7.8,-0.5 C-9,-1.8 -11,-2.3 -13.5,-2.3"/></g><g fill="#e8f4fa"><path d="M-3.8,-7.8 L-5.3,-5.6 L-2.3,-5.6 Z"/><path d="M-16.5,-2.3 L-13.3,-3.8 L-13.3,-0.8 Z"/></g></g>
<g transform="scale(-1,1)"><g fill="none" stroke="#e8f4fa" stroke-width="0.9"><path d="M0,-3.4 C-2,-3.6 -3.8,-4.4 -3.8,-5.8"/><path d="M-7.8,-0.5 C-9,-1.8 -11,-2.3 -13.5,-2.3"/></g><g fill="#e8f4fa"><path d="M-3.8,-7.8 L-5.3,-5.6 L-2.3,-5.6 Z"/><path d="M-16.5,-2.3 L-13.3,-3.8 L-13.3,-0.8 Z"/></g></g>
<g transform="scale(1,-1)"><g fill="none" stroke="#e8f4fa" stroke-width="0.9"><path d="M0,-3.4 C-2,-3.6 -3.8,-4.4 -3.8,-5.8"/><path d="M-7.8,-0.5 C-9,-1.8 -11,-2.3 -13.5,-2.3"/></g><g fill="#e8f4fa"><path d="M-3.8,-7.8 L-5.3,-5.6 L-2.3,-5.6 Z"/><path d="M-16.5,-2.3 L-13.3,-3.8 L-13.3,-0.8 Z"/></g></g>
<g transform="scale(-1,-1)"><g fill="none" stroke="#e8f4fa" stroke-width="0.9"><path d="M0,-3.4 C-2,-3.6 -3.8,-4.4 -3.8,-5.8"/><path d="M-7.8,-0.5 C-9,-1.8 -11,-2.3 -13.5,-2.3"/></g><g fill="#e8f4fa"><path d="M-3.8,-7.8 L-5.3,-5.6 L-2.3,-5.6 Z"/><path d="M-16.5,-2.3 L-13.3,-3.8 L-13.3,-0.8 Z"/></g></g>
<ellipse cx="0" cy="0" rx="7.8" ry="3.4" fill="none" stroke="#e8f4fa" stroke-width="0.9"/>
<text x="0" y="2.2" font-size="6" font-weight="bold" fill="#e8f4fa" text-anchor="middle">L2</text>
<text transform="matrix(0.930,0.368,0,1,-24.5,0)" x="1.2" y="7.2" font-size="5.6" font-weight="bold" letter-spacing="0.2" fill="#dcedf6" stroke="#dcedf6" stroke-width="0.15">SWITCH</text>
<text transform="matrix(0.930,-0.368,0,1,0,9.5)" x="3" y="7.2" font-size="5.6" font-weight="bold" letter-spacing="0.3" fill="#dcedf6" stroke="#dcedf6" stroke-width="0.15">1000M</text>
</g>
<g transform="translate(763.5,424.3)">
<g stroke-linejoin="round" stroke-width="2">
<path d="M-24,0 L0,9.5 L0,17.5 L-24,8 Z" fill="#2b82ab" stroke="#2b82ab"/>
<path d="M24,0 L0,9.5 L0,17.5 L24,8 Z" fill="#287ba4" stroke="#287ba4"/>
<path d="M0,-9.5 L24,0 L0,9.5 L-24,0 Z" fill="url(#topg)" stroke="#3a98c0"/>
</g>
<g transform=""><g fill="none" stroke="#e8f4fa" stroke-width="0.9"><path d="M0,-3.4 C-2,-3.6 -3.8,-4.4 -3.8,-5.8"/><path d="M-7.8,-0.5 C-9,-1.8 -11,-2.3 -13.5,-2.3"/></g><g fill="#e8f4fa"><path d="M-3.8,-7.8 L-5.3,-5.6 L-2.3,-5.6 Z"/><path d="M-16.5,-2.3 L-13.3,-3.8 L-13.3,-0.8 Z"/></g></g>
<g transform="scale(-1,1)"><g fill="none" stroke="#e8f4fa" stroke-width="0.9"><path d="M0,-3.4 C-2,-3.6 -3.8,-4.4 -3.8,-5.8"/><path d="M-7.8,-0.5 C-9,-1.8 -11,-2.3 -13.5,-2.3"/></g><g fill="#e8f4fa"><path d="M-3.8,-7.8 L-5.3,-5.6 L-2.3,-5.6 Z"/><path d="M-16.5,-2.3 L-13.3,-3.8 L-13.3,-0.8 Z"/></g></g>
<g transform="scale(1,-1)"><g fill="none" stroke="#e8f4fa" stroke-width="0.9"><path d="M0,-3.4 C-2,-3.6 -3.8,-4.4 -3.8,-5.8"/><path d="M-7.8,-0.5 C-9,-1.8 -11,-2.3 -13.5,-2.3"/></g><g fill="#e8f4fa"><path d="M-3.8,-7.8 L-5.3,-5.6 L-2.3,-5.6 Z"/><path d="M-16.5,-2.3 L-13.3,-3.8 L-13.3,-0.8 Z"/></g></g>
<g transform="scale(-1,-1)"><g fill="none" stroke="#e8f4fa" stroke-width="0.9"><path d="M0,-3.4 C-2,-3.6 -3.8,-4.4 -3.8,-5.8"/><path d="M-7.8,-0.5 C-9,-1.8 -11,-2.3 -13.5,-2.3"/></g><g fill="#e8f4fa"><path d="M-3.8,-7.8 L-5.3,-5.6 L-2.3,-5.6 Z"/><path d="M-16.5,-2.3 L-13.3,-3.8 L-13.3,-0.8 Z"/></g></g>
<ellipse cx="0" cy="0" rx="7.8" ry="3.4" fill="none" stroke="#e8f4fa" stroke-width="0.9"/>
<text x="0" y="2.2" font-size="6" font-weight="bold" fill="#e8f4fa" text-anchor="middle">L2</text>
<text transform="matrix(0.930,0.368,0,1,-24.5,0)" x="1.2" y="7.2" font-size="5.6" font-weight="bold" letter-spacing="0.2" fill="#dcedf6" stroke="#dcedf6" stroke-width="0.15">SWITCH</text>
<text transform="matrix(0.930,-0.368,0,1,0,9.5)" x="3" y="7.2" font-size="5.6" font-weight="bold" letter-spacing="0.3" fill="#dcedf6" stroke="#dcedf6" stroke-width="0.15">1000M</text>
</g>
<g transform="translate(943.4,431.3)">
<g stroke-linejoin="round" stroke-width="2">
<path d="M-24,0 L0,9.5 L0,17.5 L-24,8 Z" fill="#2b82ab" stroke="#2b82ab"/>
<path d="M24,0 L0,9.5 L0,17.5 L24,8 Z" fill="#287ba4" stroke="#287ba4"/>
<path d="M0,-9.5 L24,0 L0,9.5 L-24,0 Z" fill="url(#topg)" stroke="#3a98c0"/>
</g>
<g transform=""><g fill="none" stroke="#e8f4fa" stroke-width="0.9"><path d="M0,-3.4 C-2,-3.6 -3.8,-4.4 -3.8,-5.8"/><path d="M-7.8,-0.5 C-9,-1.8 -11,-2.3 -13.5,-2.3"/></g><g fill="#e8f4fa"><path d="M-3.8,-7.8 L-5.3,-5.6 L-2.3,-5.6 Z"/><path d="M-16.5,-2.3 L-13.3,-3.8 L-13.3,-0.8 Z"/></g></g>
<g transform="scale(-1,1)"><g fill="none" stroke="#e8f4fa" stroke-width="0.9"><path d="M0,-3.4 C-2,-3.6 -3.8,-4.4 -3.8,-5.8"/><path d="M-7.8,-0.5 C-9,-1.8 -11,-2.3 -13.5,-2.3"/></g><g fill="#e8f4fa"><path d="M-3.8,-7.8 L-5.3,-5.6 L-2.3,-5.6 Z"/><path d="M-16.5,-2.3 L-13.3,-3.8 L-13.3,-0.8 Z"/></g></g>
<g transform="scale(1,-1)"><g fill="none" stroke="#e8f4fa" stroke-width="0.9"><path d="M0,-3.4 C-2,-3.6 -3.8,-4.4 -3.8,-5.8"/><path d="M-7.8,-0.5 C-9,-1.8 -11,-2.3 -13.5,-2.3"/></g><g fill="#e8f4fa"><path d="M-3.8,-7.8 L-5.3,-5.6 L-2.3,-5.6 Z"/><path d="M-16.5,-2.3 L-13.3,-3.8 L-13.3,-0.8 Z"/></g></g>
<g transform="scale(-1,-1)"><g fill="none" stroke="#e8f4fa" stroke-width="0.9"><path d="M0,-3.4 C-2,-3.6 -3.8,-4.4 -3.8,-5.8"/><path d="M-7.8,-0.5 C-9,-1.8 -11,-2.3 -13.5,-2.3"/></g><g fill="#e8f4fa"><path d="M-3.8,-7.8 L-5.3,-5.6 L-2.3,-5.6 Z"/><path d="M-16.5,-2.3 L-13.3,-3.8 L-13.3,-0.8 Z"/></g></g>
<ellipse cx="0" cy="0" rx="7.8" ry="3.4" fill="none" stroke="#e8f4fa" stroke-width="0.9"/>
<text x="0" y="2.2" font-size="6" font-weight="bold" fill="#e8f4fa" text-anchor="middle">L2</text>
<text transform="matrix(0.930,0.368,0,1,-24.5,0)" x="1.2" y="7.2" font-size="5.6" font-weight="bold" letter-spacing="0.2" fill="#dcedf6" stroke="#dcedf6" stroke-width="0.15">SWITCH</text>
<text transform="matrix(0.930,-0.368,0,1,0,9.5)" x="3" y="7.2" font-size="5.6" font-weight="bold" letter-spacing="0.3" fill="#dcedf6" stroke="#dcedf6" stroke-width="0.15">1000M</text>
</g>
<g transform="translate(1024.6,431.3)">
<g stroke-linejoin="round" stroke-width="2">
<path d="M-24,0 L0,9.5 L0,17.5 L-24,8 Z" fill="#2b82ab" stroke="#2b82ab"/>
<path d="M24,0 L0,9.5 L0,17.5 L24,8 Z" fill="#287ba4" stroke="#287ba4"/>
<path d="M0,-9.5 L24,0 L0,9.5 L-24,0 Z" fill="url(#topg)" stroke="#3a98c0"/>
</g>
<g transform=""><g fill="none" stroke="#e8f4fa" stroke-width="0.9"><path d="M0,-3.4 C-2,-3.6 -3.8,-4.4 -3.8,-5.8"/><path d="M-7.8,-0.5 C-9,-1.8 -11,-2.3 -13.5,-2.3"/></g><g fill="#e8f4fa"><path d="M-3.8,-7.8 L-5.3,-5.6 L-2.3,-5.6 Z"/><path d="M-16.5,-2.3 L-13.3,-3.8 L-13.3,-0.8 Z"/></g></g>
<g transform="scale(-1,1)"><g fill="none" stroke="#e8f4fa" stroke-width="0.9"><path d="M0,-3.4 C-2,-3.6 -3.8,-4.4 -3.8,-5.8"/><path d="M-7.8,-0.5 C-9,-1.8 -11,-2.3 -13.5,-2.3"/></g><g fill="#e8f4fa"><path d="M-3.8,-7.8 L-5.3,-5.6 L-2.3,-5.6 Z"/><path d="M-16.5,-2.3 L-13.3,-3.8 L-13.3,-0.8 Z"/></g></g>
<g transform="scale(1,-1)"><g fill="none" stroke="#e8f4fa" stroke-width="0.9"><path d="M0,-3.4 C-2,-3.6 -3.8,-4.4 -3.8,-5.8"/><path d="M-7.8,-0.5 C-9,-1.8 -11,-2.3 -13.5,-2.3"/></g><g fill="#e8f4fa"><path d="M-3.8,-7.8 L-5.3,-5.6 L-2.3,-5.6 Z"/><path d="M-16.5,-2.3 L-13.3,-3.8 L-13.3,-0.8 Z"/></g></g>
<g transform="scale(-1,-1)"><g fill="none" stroke="#e8f4fa" stroke-width="0.9"><path d="M0,-3.4 C-2,-3.6 -3.8,-4.4 -3.8,-5.8"/><path d="M-7.8,-0.5 C-9,-1.8 -11,-2.3 -13.5,-2.3"/></g><g fill="#e8f4fa"><path d="M-3.8,-7.8 L-5.3,-5.6 L-2.3,-5.6 Z"/><path d="M-16.5,-2.3 L-13.3,-3.8 L-13.3,-0.8 Z"/></g></g>
<ellipse cx="0" cy="0" rx="7.8" ry="3.4" fill="none" stroke="#e8f4fa" stroke-width="0.9"/>
<text x="0" y="2.2" font-size="6" font-weight="bold" fill="#e8f4fa" text-anchor="middle">L2</text>
<text transform="matrix(0.930,0.368,0,1,-24.5,0)" x="1.2" y="7.2" font-size="5.6" font-weight="bold" letter-spacing="0.2" fill="#dcedf6" stroke="#dcedf6" stroke-width="0.15">SWITCH</text>
<text transform="matrix(0.930,-0.368,0,1,0,9.5)" x="3" y="7.2" font-size="5.6" font-weight="bold" letter-spacing="0.3" fill="#dcedf6" stroke="#dcedf6" stroke-width="0.15">1000M</text>
</g>
<g transform="translate(902.8,183.5)">
<g stroke-linejoin="round" stroke-width="3">
<path d="M-26.5,0 L0,18 L0,30.5 L-26.5,12.5 Z" fill="#2b82ab" stroke="#2b82ab"/>
<path d="M26.5,0 L0,18 L0,30.5 L26.5,12.5 Z" fill="#287ba4" stroke="#287ba4"/>
<path d="M0,-17 L26.5,0 L0,18 L-26.5,0 Z" fill="url(#topg)" stroke="#3a98c0"/>
</g>
<g>
<g fill="none" stroke="#f2f9fc" stroke-width="1.5"><path d="M0,-6.8 C-2.6,-7 -4.6,-8.3 -4.6,-10.8"/><path d="M-9,-0.8 C-10.5,-3 -12.3,-3.8 -14.8,-3.8"/></g>
<g fill="#f2f9fc"><path d="M-4.6,-14 L-6.9,-10.6 L-2.3,-10.6 Z"/><path d="M-18.6,-3.8 L-14.6,-6.1 L-14.6,-1.5 Z"/></g>
</g>
<g transform="scale(-1,1)"><g fill="none" stroke="#f2f9fc" stroke-width="1.5"><path d="M0,-6.8 C-2.6,-7 -4.6,-8.3 -4.6,-10.8"/><path d="M-9,-0.8 C-10.5,-3 -12.3,-3.8 -14.8,-3.8"/></g><g fill="#f2f9fc"><path d="M-4.6,-14 L-6.9,-10.6 L-2.3,-10.6 Z"/><path d="M-18.6,-3.8 L-14.6,-6.1 L-14.6,-1.5 Z"/></g></g>
<g transform="scale(1,-1)"><g fill="none" stroke="#f2f9fc" stroke-width="1.5"><path d="M0,-6.8 C-2.6,-7 -4.6,-8.3 -4.6,-10.8"/><path d="M-9,-0.8 C-10.5,-3 -12.3,-3.8 -14.8,-3.8"/></g><g fill="#f2f9fc"><path d="M-4.6,-14 L-6.9,-10.6 L-2.3,-10.6 Z"/><path d="M-18.6,-3.8 L-14.6,-6.1 L-14.6,-1.5 Z"/></g></g>
<g transform="scale(-1,-1)"><g fill="none" stroke="#f2f9fc" stroke-width="1.5"><path d="M0,-6.8 C-2.6,-7 -4.6,-8.3 -4.6,-10.8"/><path d="M-9,-0.8 C-10.5,-3 -12.3,-3.8 -14.8,-3.8"/></g><g fill="#f2f9fc"><path d="M-4.6,-14 L-6.9,-10.6 L-2.3,-10.6 Z"/><path d="M-18.6,-3.8 L-14.6,-6.1 L-14.6,-1.5 Z"/></g></g>
<ellipse cx="0" cy="0" rx="9" ry="6.8" fill="none" stroke="#f2f9fc" stroke-width="1.5"/>
<text x="0.3" y="3.6" font-size="10" font-weight="bold" fill="#f2f9fc" text-anchor="middle">L3</text>
<text transform="matrix(0.828,0.562,0,1,-27,0)" x="1.5" y="11" font-size="8" font-weight="bold" fill="#e6f3f9" stroke="#e6f3f9" stroke-width="0.25">SWITCH</text>
<text transform="matrix(0.828,-0.562,0,1,0,18)" x="3" y="11" font-size="8" font-weight="bold" fill="#e6f3f9" stroke="#e6f3f9" stroke-width="0.25">1000M</text>
</g>
<g transform="translate(140,375.2)">
<g stroke-linejoin="round" stroke-width="3">
<path d="M-26.5,0 L0,18 L0,30.5 L-26.5,12.5 Z" fill="#2b82ab" stroke="#2b82ab"/>
<path d="M26.5,0 L0,18 L0,30.5 L26.5,12.5 Z" fill="#287ba4" stroke="#287ba4"/>
<path d="M0,-17 L26.5,0 L0,18 L-26.5,0 Z" fill="url(#topg)" stroke="#3a98c0"/>
</g>
<g>
<g fill="none" stroke="#f2f9fc" stroke-width="1.5"><path d="M0,-6.8 C-2.6,-7 -4.6,-8.3 -4.6,-10.8"/><path d="M-9,-0.8 C-10.5,-3 -12.3,-3.8 -14.8,-3.8"/></g>
<g fill="#f2f9fc"><path d="M-4.6,-14 L-6.9,-10.6 L-2.3,-10.6 Z"/><path d="M-18.6,-3.8 L-14.6,-6.1 L-14.6,-1.5 Z"/></g>
</g>
<g transform="scale(-1,1)"><g fill="none" stroke="#f2f9fc" stroke-width="1.5"><path d="M0,-6.8 C-2.6,-7 -4.6,-8.3 -4.6,-10.8"/><path d="M-9,-0.8 C-10.5,-3 -12.3,-3.8 -14.8,-3.8"/></g><g fill="#f2f9fc"><path d="M-4.6,-14 L-6.9,-10.6 L-2.3,-10.6 Z"/><path d="M-18.6,-3.8 L-14.6,-6.1 L-14.6,-1.5 Z"/></g></g>
<g transform="scale(1,-1)"><g fill="none" stroke="#f2f9fc" stroke-width="1.5"><path d="M0,-6.8 C-2.6,-7 -4.6,-8.3 -4.6,-10.8"/><path d="M-9,-0.8 C-10.5,-3 -12.3,-3.8 -14.8,-3.8"/></g><g fill="#f2f9fc"><path d="M-4.6,-14 L-6.9,-10.6 L-2.3,-10.6 Z"/><path d="M-18.6,-3.8 L-14.6,-6.1 L-14.6,-1.5 Z"/></g></g>
<g transform="scale(-1,-1)"><g fill="none" stroke="#f2f9fc" stroke-width="1.5"><path d="M0,-6.8 C-2.6,-7 -4.6,-8.3 -4.6,-10.8"/><path d="M-9,-0.8 C-10.5,-3 -12.3,-3.8 -14.8,-3.8"/></g><g fill="#f2f9fc"><path d="M-4.6,-14 L-6.9,-10.6 L-2.3,-10.6 Z"/><path d="M-18.6,-3.8 L-14.6,-6.1 L-14.6,-1.5 Z"/></g></g>
<ellipse cx="0" cy="0" rx="9" ry="6.8" fill="none" stroke="#f2f9fc" stroke-width="1.5"/>
<text x="0.3" y="3.6" font-size="10" font-weight="bold" fill="#f2f9fc" text-anchor="middle">L3</text>
<text transform="matrix(0.828,0.562,0,1,-27,0)" x="1.5" y="11" font-size="8" font-weight="bold" fill="#e6f3f9" stroke="#e6f3f9" stroke-width="0.25">SWITCH</text>
<text transform="matrix(0.828,-0.562,0,1,0,18)" x="3" y="11" font-size="8" font-weight="bold" fill="#e6f3f9" stroke="#e6f3f9" stroke-width="0.25">1000M</text>
</g>
<g transform="translate(420.3,371.2)">
<g stroke-linejoin="round" stroke-width="3">
<path d="M-26.5,0 L0,18 L0,30.5 L-26.5,12.5 Z" fill="#2b82ab" stroke="#2b82ab"/>
<path d="M26.5,0 L0,18 L0,30.5 L26.5,12.5 Z" fill="#287ba4" stroke="#287ba4"/>
<path d="M0,-17 L26.5,0 L0,18 L-26.5,0 Z" fill="url(#topg)" stroke="#3a98c0"/>
</g>
<g>
<g fill="none" stroke="#f2f9fc" stroke-width="1.5"><path d="M0,-6.8 C-2.6,-7 -4.6,-8.3 -4.6,-10.8"/><path d="M-9,-0.8 C-10.5,-3 -12.3,-3.8 -14.8,-3.8"/></g>
<g fill="#f2f9fc"><path d="M-4.6,-14 L-6.9,-10.6 L-2.3,-10.6 Z"/><path d="M-18.6,-3.8 L-14.6,-6.1 L-14.6,-1.5 Z"/></g>
</g>
<g transform="scale(-1,1)"><g fill="none" stroke="#f2f9fc" stroke-width="1.5"><path d="M0,-6.8 C-2.6,-7 -4.6,-8.3 -4.6,-10.8"/><path d="M-9,-0.8 C-10.5,-3 -12.3,-3.8 -14.8,-3.8"/></g><g fill="#f2f9fc"><path d="M-4.6,-14 L-6.9,-10.6 L-2.3,-10.6 Z"/><path d="M-18.6,-3.8 L-14.6,-6.1 L-14.6,-1.5 Z"/></g></g>
<g transform="scale(1,-1)"><g fill="none" stroke="#f2f9fc" stroke-width="1.5"><path d="M0,-6.8 C-2.6,-7 -4.6,-8.3 -4.6,-10.8"/><path d="M-9,-0.8 C-10.5,-3 -12.3,-3.8 -14.8,-3.8"/></g><g fill="#f2f9fc"><path d="M-4.6,-14 L-6.9,-10.6 L-2.3,-10.6 Z"/><path d="M-18.6,-3.8 L-14.6,-6.1 L-14.6,-1.5 Z"/></g></g>
<g transform="scale(-1,-1)"><g fill="none" stroke="#f2f9fc" stroke-width="1.5"><path d="M0,-6.8 C-2.6,-7 -4.6,-8.3 -4.6,-10.8"/><path d="M-9,-0.8 C-10.5,-3 -12.3,-3.8 -14.8,-3.8"/></g><g fill="#f2f9fc"><path d="M-4.6,-14 L-6.9,-10.6 L-2.3,-10.6 Z"/><path d="M-18.6,-3.8 L-14.6,-6.1 L-14.6,-1.5 Z"/></g></g>
<ellipse cx="0" cy="0" rx="9" ry="6.8" fill="none" stroke="#f2f9fc" stroke-width="1.5"/>
<text x="0.3" y="3.6" font-size="10" font-weight="bold" fill="#f2f9fc" text-anchor="middle">L3</text>
<text transform="matrix(0.828,0.562,0,1,-27,0)" x="1.5" y="11" font-size="8" font-weight="bold" fill="#e6f3f9" stroke="#e6f3f9" stroke-width="0.25">SWITCH</text>
<text transform="matrix(0.828,-0.562,0,1,0,18)" x="3" y="11" font-size="8" font-weight="bold" fill="#e6f3f9" stroke="#e6f3f9" stroke-width="0.25">1000M</text>
</g>
<g transform="translate(704.7,380.1)">
<g stroke-linejoin="round" stroke-width="3">
<path d="M-26.5,0 L0,18 L0,30.5 L-26.5,12.5 Z" fill="#2b82ab" stroke="#2b82ab"/>
<path d="M26.5,0 L0,18 L0,30.5 L26.5,12.5 Z" fill="#287ba4" stroke="#287ba4"/>
<path d="M0,-17 L26.5,0 L0,18 L-26.5,0 Z" fill="url(#topg)" stroke="#3a98c0"/>
</g>
<g>
<g fill="none" stroke="#f2f9fc" stroke-width="1.5"><path d="M0,-6.8 C-2.6,-7 -4.6,-8.3 -4.6,-10.8"/><path d="M-9,-0.8 C-10.5,-3 -12.3,-3.8 -14.8,-3.8"/></g>
<g fill="#f2f9fc"><path d="M-4.6,-14 L-6.9,-10.6 L-2.3,-10.6 Z"/><path d="M-18.6,-3.8 L-14.6,-6.1 L-14.6,-1.5 Z"/></g>
</g>
<g transform="scale(-1,1)"><g fill="none" stroke="#f2f9fc" stroke-width="1.5"><path d="M0,-6.8 C-2.6,-7 -4.6,-8.3 -4.6,-10.8"/><path d="M-9,-0.8 C-10.5,-3 -12.3,-3.8 -14.8,-3.8"/></g><g fill="#f2f9fc"><path d="M-4.6,-14 L-6.9,-10.6 L-2.3,-10.6 Z"/><path d="M-18.6,-3.8 L-14.6,-6.1 L-14.6,-1.5 Z"/></g></g>
<g transform="scale(1,-1)"><g fill="none" stroke="#f2f9fc" stroke-width="1.5"><path d="M0,-6.8 C-2.6,-7 -4.6,-8.3 -4.6,-10.8"/><path d="M-9,-0.8 C-10.5,-3 -12.3,-3.8 -14.8,-3.8"/></g><g fill="#f2f9fc"><path d="M-4.6,-14 L-6.9,-10.6 L-2.3,-10.6 Z"/><path d="M-18.6,-3.8 L-14.6,-6.1 L-14.6,-1.5 Z"/></g></g>
<g transform="scale(-1,-1)"><g fill="none" stroke="#f2f9fc" stroke-width="1.5"><path d="M0,-6.8 C-2.6,-7 -4.6,-8.3 -4.6,-10.8"/><path d="M-9,-0.8 C-10.5,-3 -12.3,-3.8 -14.8,-3.8"/></g><g fill="#f2f9fc"><path d="M-4.6,-14 L-6.9,-10.6 L-2.3,-10.6 Z"/><path d="M-18.6,-3.8 L-14.6,-6.1 L-14.6,-1.5 Z"/></g></g>
<ellipse cx="0" cy="0" rx="9" ry="6.8" fill="none" stroke="#f2f9fc" stroke-width="1.5"/>
<text x="0.3" y="3.6" font-size="10" font-weight="bold" fill="#f2f9fc" text-anchor="middle">L3</text>
<text transform="matrix(0.828,0.562,0,1,-27,0)" x="1.5" y="11" font-size="8" font-weight="bold" fill="#e6f3f9" stroke="#e6f3f9" stroke-width="0.25">SWITCH</text>
<text transform="matrix(0.828,-0.562,0,1,0,18)" x="3" y="11" font-size="8" font-weight="bold" fill="#e6f3f9" stroke="#e6f3f9" stroke-width="0.25">1000M</text>
</g>
<g transform="translate(986.5,344.8)">
<g stroke-linejoin="round" stroke-width="3">
<path d="M-26.5,0 L0,18 L0,30.5 L-26.5,12.5 Z" fill="#2b82ab" stroke="#2b82ab"/>
<path d="M26.5,0 L0,18 L0,30.5 L26.5,12.5 Z" fill="#287ba4" stroke="#287ba4"/>
<path d="M0,-17 L26.5,0 L0,18 L-26.5,0 Z" fill="url(#topg)" stroke="#3a98c0"/>
</g>
<g>
<g fill="none" stroke="#f2f9fc" stroke-width="1.5"><path d="M0,-6.8 C-2.6,-7 -4.6,-8.3 -4.6,-10.8"/><path d="M-9,-0.8 C-10.5,-3 -12.3,-3.8 -14.8,-3.8"/></g>
<g fill="#f2f9fc"><path d="M-4.6,-14 L-6.9,-10.6 L-2.3,-10.6 Z"/><path d="M-18.6,-3.8 L-14.6,-6.1 L-14.6,-1.5 Z"/></g>
</g>
<g transform="scale(-1,1)"><g fill="none" stroke="#f2f9fc" stroke-width="1.5"><path d="M0,-6.8 C-2.6,-7 -4.6,-8.3 -4.6,-10.8"/><path d="M-9,-0.8 C-10.5,-3 -12.3,-3.8 -14.8,-3.8"/></g><g fill="#f2f9fc"><path d="M-4.6,-14 L-6.9,-10.6 L-2.3,-10.6 Z"/><path d="M-18.6,-3.8 L-14.6,-6.1 L-14.6,-1.5 Z"/></g></g>
<g transform="scale(1,-1)"><g fill="none" stroke="#f2f9fc" stroke-width="1.5"><path d="M0,-6.8 C-2.6,-7 -4.6,-8.3 -4.6,-10.8"/><path d="M-9,-0.8 C-10.5,-3 -12.3,-3.8 -14.8,-3.8"/></g><g fill="#f2f9fc"><path d="M-4.6,-14 L-6.9,-10.6 L-2.3,-10.6 Z"/><path d="M-18.6,-3.8 L-14.6,-6.1 L-14.6,-1.5 Z"/></g></g>
<g transform="scale(-1,-1)"><g fill="none" stroke="#f2f9fc" stroke-width="1.5"><path d="M0,-6.8 C-2.6,-7 -4.6,-8.3 -4.6,-10.8"/><path d="M-9,-0.8 C-10.5,-3 -12.3,-3.8 -14.8,-3.8"/></g><g fill="#f2f9fc"><path d="M-4.6,-14 L-6.9,-10.6 L-2.3,-10.6 Z"/><path d="M-18.6,-3.8 L-14.6,-6.1 L-14.6,-1.5 Z"/></g></g>
<ellipse cx="0" cy="0" rx="9" ry="6.8" fill="none" stroke="#f2f9fc" stroke-width="1.5"/>
<text x="0.3" y="3.6" font-size="10" font-weight="bold" fill="#f2f9fc" text-anchor="middle">L3</text>
<text transform="matrix(0.828,0.562,0,1,-27,0)" x="1.5" y="11" font-size="8" font-weight="bold" fill="#e6f3f9" stroke="#e6f3f9" stroke-width="0.25">SWITCH</text>
<text transform="matrix(0.828,-0.562,0,1,0,18)" x="3" y="11" font-size="8" font-weight="bold" fill="#e6f3f9" stroke="#e6f3f9" stroke-width="0.25">1000M</text>
</g>
<!-- PCs -->
<g transform="translate(66,497)">
<g stroke-linejoin="round">
<path d="M0,10 L10,14.6 L10,40 L0,35.4 Z" fill="#2a88bd" stroke="#2a88bd" stroke-width="1"/>
<path d="M10,14.6 L26.4,5.8 L26.4,30 L10,40 Z" fill="#3a9dcc" stroke="#3a9dcc" stroke-width="1"/>
<path d="M0,10 L16.6,1.2 L26.4,5.8 L10,14.6 Z" fill="#3898c8" stroke="#3898c8" stroke-width="1"/>
<path d="M17,38 L24,35 L36,41 L36,44.5 L29,47 L17,41.5 Z" fill="#2b86ba" stroke="#2b86ba" stroke-width="1"/>
<path d="M14,5.8 L17,4.6 L42.5,17.4 L42.5,41.6 L40,42.8 L14,29.8 Z" fill="#1f6e9e" stroke="#1f6e9e" stroke-width="1"/>
<path d="M14,5.8 L39.5,18.8 L39.5,42.8 L14,29.8 Z" fill="#3091c4" stroke="#3091c4" stroke-width="1"/>
<path d="M15.6,8.4 L38,19.8 L38,41 L15.6,29.4 Z" fill="#5fb3d9"/>
<path d="M16.6,9.6 L37,20.4 L37,39.8 L16.6,28.8 Z" fill="#c9c9cd"/>
</g>
</g>
<g transform="translate(119,500.6)">
<g stroke-linejoin="round">
<path d="M0,10 L10,14.6 L10,40 L0,35.4 Z" fill="#2a88bd" stroke="#2a88bd" stroke-width="1"/>
<path d="M10,14.6 L26.4,5.8 L26.4,30 L10,40 Z" fill="#3a9dcc" stroke="#3a9dcc" stroke-width="1"/>
<path d="M0,10 L16.6,1.2 L26.4,5.8 L10,14.6 Z" fill="#3898c8" stroke="#3898c8" stroke-width="1"/>
<path d="M17,38 L24,35 L36,41 L36,44.5 L29,47 L17,41.5 Z" fill="#2b86ba" stroke="#2b86ba" stroke-width="1"/>
<path d="M14,5.8 L17,4.6 L42.5,17.4 L42.5,41.6 L40,42.8 L14,29.8 Z" fill="#1f6e9e" stroke="#1f6e9e" stroke-width="1"/>
<path d="M14,5.8 L39.5,18.8 L39.5,42.8 L14,29.8 Z" fill="#3091c4" stroke="#3091c4" stroke-width="1"/>
<path d="M15.6,8.4 L38,19.8 L38,41 L15.6,29.4 Z" fill="#5fb3d9"/>
<path d="M16.6,9.6 L37,20.4 L37,39.8 L16.6,28.8 Z" fill="#c9c9cd"/>
</g>
</g>
<g transform="translate(402.7,503.8)">
<g stroke-linejoin="round">
<path d="M0,10 L10,14.6 L10,40 L0,35.4 Z" fill="#2a88bd" stroke="#2a88bd" stroke-width="1"/>
<path d="M10,14.6 L26.4,5.8 L26.4,30 L10,40 Z" fill="#3a9dcc" stroke="#3a9dcc" stroke-width="1"/>
<path d="M0,10 L16.6,1.2 L26.4,5.8 L10,14.6 Z" fill="#3898c8" stroke="#3898c8" stroke-width="1"/>
<path d="M17,38 L24,35 L36,41 L36,44.5 L29,47 L17,41.5 Z" fill="#2b86ba" stroke="#2b86ba" stroke-width="1"/>
<path d="M14,5.8 L17,4.6 L42.5,17.4 L42.5,41.6 L40,42.8 L14,29.8 Z" fill="#1f6e9e" stroke="#1f6e9e" stroke-width="1"/>
<path d="M14,5.8 L39.5,18.8 L39.5,42.8 L14,29.8 Z" fill="#3091c4" stroke="#3091c4" stroke-width="1"/>
<path d="M15.6,8.4 L38,19.8 L38,41 L15.6,29.4 Z" fill="#5fb3d9"/>
<path d="M16.6,9.6 L37,20.4 L37,39.8 L16.6,28.8 Z" fill="#c9c9cd"/>
</g>
</g>
<g transform="translate(686,501.7)">
<g stroke-linejoin="round">
<path d="M0,10 L10,14.6 L10,40 L0,35.4 Z" fill="#2a88bd" stroke="#2a88bd" stroke-width="1"/>
<path d="M10,14.6 L26.4,5.8 L26.4,30 L10,40 Z" fill="#3a9dcc" stroke="#3a9dcc" stroke-width="1"/>
<path d="M0,10 L16.6,1.2 L26.4,5.8 L10,14.6 Z" fill="#3898c8" stroke="#3898c8" stroke-width="1"/>
<path d="M17,38 L24,35 L36,41 L36,44.5 L29,47 L17,41.5 Z" fill="#2b86ba" stroke="#2b86ba" stroke-width="1"/>
<path d="M14,5.8 L17,4.6 L42.5,17.4 L42.5,41.6 L40,42.8 L14,29.8 Z" fill="#1f6e9e" stroke="#1f6e9e" stroke-width="1"/>
<path d="M14,5.8 L39.5,18.8 L39.5,42.8 L14,29.8 Z" fill="#3091c4" stroke="#3091c4" stroke-width="1"/>
<path d="M15.6,8.4 L38,19.8 L38,41 L15.6,29.4 Z" fill="#5fb3d9"/>
<path d="M16.6,9.6 L37,20.4 L37,39.8 L16.6,28.8 Z" fill="#c9c9cd"/>
</g>
</g>
<g transform="translate(922.9,501.6)">
<g stroke-linejoin="round">
<path d="M0,10 L10,14.6 L10,40 L0,35.4 Z" fill="#2a88bd" stroke="#2a88bd" stroke-width="1"/>
<path d="M10,14.6 L26.4,5.8 L26.4,30 L10,40 Z" fill="#3a9dcc" stroke="#3a9dcc" stroke-width="1"/>
<path d="M0,10 L16.6,1.2 L26.4,5.8 L10,14.6 Z" fill="#3898c8" stroke="#3898c8" stroke-width="1"/>
<path d="M17,38 L24,35 L36,41 L36,44.5 L29,47 L17,41.5 Z" fill="#2b86ba" stroke="#2b86ba" stroke-width="1"/>
<path d="M14,5.8 L17,4.6 L42.5,17.4 L42.5,41.6 L40,42.8 L14,29.8 Z" fill="#1f6e9e" stroke="#1f6e9e" stroke-width="1"/>
<path d="M14,5.8 L39.5,18.8 L39.5,42.8 L14,29.8 Z" fill="#3091c4" stroke="#3091c4" stroke-width="1"/>
<path d="M15.6,8.4 L38,19.8 L38,41 L15.6,29.4 Z" fill="#5fb3d9"/>
<path d="M16.6,9.6 L37,20.4 L37,39.8 L16.6,28.8 Z" fill="#c9c9cd"/>
</g>
</g>
<!-- APs -->
<g transform="translate(196.1,525)">
<g stroke-linejoin="round" stroke-width="2">
<path d="M-17.5,0 L0.5,8.5 L0.5,17 L-17.5,8.5 Z" fill="#2b88bb" stroke="#2b88bb"/>
<path d="M17.8,0 L0.5,8.5 L0.5,17 L17.8,8.5 Z" fill="#2880b2" stroke="#2880b2"/>
<path d="M-1.5,-9 L17.8,0 L0.5,8.5 L-17.5,0 Z" fill="#3b9dcd" stroke="#3b9dcd"/>
</g>
<path d="M-11.5,-2.6 L-3.6,-6.4 L5.2,-2.2 L-2.6,1.6 Z" fill="#f4f6f8"/>
<path d="M1.5,-4 L5.2,-2.2 L2.8,-1 L-0.8,-2.8 Z" fill="#2a6c96"/>
<path d="M-8,-3 L-3,-5.2 M-6.5,-1.9 L-1.5,-4.1 M-5,-0.8 L0,-3" stroke="#e08080" stroke-width="0.5"/>
<ellipse cx="10" cy="0.5" rx="3" ry="2.2" fill="none" stroke="#d8eef8" stroke-width="0.8"/>
<path d="M8.5,0.5 L11.5,0.5 M10,-0.8 L10,1.8" stroke="#d8eef8" stroke-width="0.5"/>
<text transform="matrix(0.9,0.44,0,1,-17.5,0)" x="2.5" y="6.5" font-size="4" font-weight="bold" fill="#d8ecf5">WLAN</text>
</g>
<g transform="translate(476,533.4)">
<g stroke-linejoin="round" stroke-width="2">
<path d="M-17.5,0 L0.5,8.5 L0.5,17 L-17.5,8.5 Z" fill="#2b88bb" stroke="#2b88bb"/>
<path d="M17.8,0 L0.5,8.5 L0.5,17 L17.8,8.5 Z" fill="#2880b2" stroke="#2880b2"/>
<path d="M-1.5,-9 L17.8,0 L0.5,8.5 L-17.5,0 Z" fill="#3b9dcd" stroke="#3b9dcd"/>
</g>
<path d="M-11.5,-2.6 L-3.6,-6.4 L5.2,-2.2 L-2.6,1.6 Z" fill="#f4f6f8"/>
<path d="M1.5,-4 L5.2,-2.2 L2.8,-1 L-0.8,-2.8 Z" fill="#2a6c96"/>
<path d="M-8,-3 L-3,-5.2 M-6.5,-1.9 L-1.5,-4.1 M-5,-0.8 L0,-3" stroke="#e08080" stroke-width="0.5"/>
<ellipse cx="10" cy="0.5" rx="3" ry="2.2" fill="none" stroke="#d8eef8" stroke-width="0.8"/>
<path d="M8.5,0.5 L11.5,0.5 M10,-0.8 L10,1.8" stroke="#d8eef8" stroke-width="0.5"/>
<text transform="matrix(0.9,0.44,0,1,-17.5,0)" x="2.5" y="6.5" font-size="4" font-weight="bold" fill="#d8ecf5">WLAN</text>
</g>
<g transform="translate(760.2,532.4)">
<g stroke-linejoin="round" stroke-width="2">
<path d="M-17.5,0 L0.5,8.5 L0.5,17 L-17.5,8.5 Z" fill="#2b88bb" stroke="#2b88bb"/>
<path d="M17.8,0 L0.5,8.5 L0.5,17 L17.8,8.5 Z" fill="#2880b2" stroke="#2880b2"/>
<path d="M-1.5,-9 L17.8,0 L0.5,8.5 L-17.5,0 Z" fill="#3b9dcd" stroke="#3b9dcd"/>
</g>
<path d="M-11.5,-2.6 L-3.6,-6.4 L5.2,-2.2 L-2.6,1.6 Z" fill="#f4f6f8"/>
<path d="M1.5,-4 L5.2,-2.2 L2.8,-1 L-0.8,-2.8 Z" fill="#2a6c96"/>
<path d="M-8,-3 L-3,-5.2 M-6.5,-1.9 L-1.5,-4.1 M-5,-0.8 L0,-3" stroke="#e08080" stroke-width="0.5"/>
<ellipse cx="10" cy="0.5" rx="3" ry="2.2" fill="none" stroke="#d8eef8" stroke-width="0.8"/>
<path d="M8.5,0.5 L11.5,0.5 M10,-0.8 L10,1.8" stroke="#d8eef8" stroke-width="0.5"/>
<text transform="matrix(0.9,0.44,0,1,-17.5,0)" x="2.5" y="6.5" font-size="4" font-weight="bold" fill="#d8ecf5">WLAN</text>
</g>
<g transform="translate(1001.1,533.2)">
<g stroke-linejoin="round" stroke-width="2">
<path d="M-17.5,0 L0.5,8.5 L0.5,17 L-17.5,8.5 Z" fill="#2b88bb" stroke="#2b88bb"/>
<path d="M17.8,0 L0.5,8.5 L0.5,17 L17.8,8.5 Z" fill="#2880b2" stroke="#2880b2"/>
<path d="M-1.5,-9 L17.8,0 L0.5,8.5 L-17.5,0 Z" fill="#3b9dcd" stroke="#3b9dcd"/>
</g>
<path d="M-11.5,-2.6 L-3.6,-6.4 L5.2,-2.2 L-2.6,1.6 Z" fill="#f4f6f8"/>
<path d="M1.5,-4 L5.2,-2.2 L2.8,-1 L-0.8,-2.8 Z" fill="#2a6c96"/>
<path d="M-8,-3 L-3,-5.2 M-6.5,-1.9 L-1.5,-4.1 M-5,-0.8 L0,-3" stroke="#e08080" stroke-width="0.5"/>
<ellipse cx="10" cy="0.5" rx="3" ry="2.2" fill="none" stroke="#d8eef8" stroke-width="0.8"/>
<path d="M8.5,0.5 L11.5,0.5 M10,-0.8 L10,1.8" stroke="#d8eef8" stroke-width="0.5"/>
<text transform="matrix(0.9,0.44,0,1,-17.5,0)" x="2.5" y="6.5" font-size="4" font-weight="bold" fill="#d8ecf5">WLAN</text>
</g>
<!-- speakers -->
<g transform="translate(352.5,523.7)">
<path d="M8,3.5 C12,1.5 17,0.3 22.2,0.1 C26,0 29.5,3 28.8,7.5 C28.3,11 27,13.5 25.5,16 C24,19 22.5,20 21.5,21 L14,24 Z" fill="#2a80b8"/>
<path d="M22.5,1 C26,1.5 29.5,4 28.8,8 C28.3,11 27,13.5 25.5,16 C26,11 25.5,6 22.5,1 Z" fill="#3aa0d0"/>
<ellipse cx="11.2" cy="14.3" rx="11.2" ry="12.4" transform="rotate(-20 11.2 14.3)" fill="#1a5b8a"/>
<path d="M8.5,13.5 L19,6.5 C20.5,6 21.8,7.3 21.2,8.8 L14.2,18.5 Z" fill="#3596c6"/>
<circle cx="11.6" cy="15.8" r="3.8" fill="#3c9fcf"/>
</g>
<g transform="translate(633.6,523)">
<path d="M8,3.5 C12,1.5 17,0.3 22.2,0.1 C26,0 29.5,3 28.8,7.5 C28.3,11 27,13.5 25.5,16 C24,19 22.5,20 21.5,21 L14,24 Z" fill="#2a80b8"/>
<path d="M22.5,1 C26,1.5 29.5,4 28.8,8 C28.3,11 27,13.5 25.5,16 C26,11 25.5,6 22.5,1 Z" fill="#3aa0d0"/>
<ellipse cx="11.2" cy="14.3" rx="11.2" ry="12.4" transform="rotate(-20 11.2 14.3)" fill="#1a5b8a"/>
<path d="M8.5,13.5 L19,6.5 C20.5,6 21.8,7.3 21.2,8.8 L14.2,18.5 Z" fill="#3596c6"/>
<circle cx="11.6" cy="15.8" r="3.8" fill="#3c9fcf"/>
</g>
<g transform="translate(872.8,523.8)">
<path d="M8,3.5 C12,1.5 17,0.3 22.2,0.1 C26,0 29.5,3 28.8,7.5 C28.3,11 27,13.5 25.5,16 C24,19 22.5,20 21.5,21 L14,24 Z" fill="#2a80b8"/>
<path d="M22.5,1 C26,1.5 29.5,4 28.8,8 C28.3,11 27,13.5 25.5,16 C26,11 25.5,6 22.5,1 Z" fill="#3aa0d0"/>
<ellipse cx="11.2" cy="14.3" rx="11.2" ry="12.4" transform="rotate(-20 11.2 14.3)" fill="#1a5b8a"/>
<path d="M8.5,13.5 L19,6.5 C20.5,6 21.8,7.3 21.2,8.8 L14.2,18.5 Z" fill="#3596c6"/>
<circle cx="11.6" cy="15.8" r="3.8" fill="#3c9fcf"/>
</g>

<text class="cn" font-size="15" x="268" y="81">行为审计</text>
<text class="md" font-size="15.5" x="261" y="97.5">DCBC-200</text>
<text class="cn sh" font-size="15" x="413" y="92">无线控制器</text>
<text class="cn" font-size="15" x="717" y="182">服务器</text>
<text class="cn s" font-size="12" x="946" y="189.3">食堂</text>
<text class="cn" font-size="15" x="214" y="195">出口防火墙</text>
<text class="md" font-size="15.2" x="183.5" y="211">DCFW-1800-N6008</text>
<text class="cn" font-size="15" x="518" y="336">核心交换机</text>
<text class="md" font-size="15" x="510.5" y="352">DCRS-7604E</text>

<text class="cn s" font-size="12" x="163" y="359.3">汇聚交换机</text>
<text class="cn s" font-size="12" x="257" y="442.3">接入交换机</text>
<text class="md" font-size="12.1" x="259" y="455.2">DCS-4600</text>
<text class="cn s" font-size="12" x="181" y="557.3">无线</text>
<text class="md" font-size="13.2" x="184" y="572">AP</text>
<text class="cn s" font-size="12" x="107" y="574.3">综合办公楼</text>

<text class="cn s" font-size="12" x="340" y="359.3">汇聚交换机</text>
<text class="cn s" font-size="12" x="432" y="455.3">接入交换机</text>
<text class="md" font-size="12.1" x="434" y="469.2">DCS-4600</text>
<text class="cn s" font-size="12" x="344" y="569.3">广播</text>
<text class="cn s" font-size="12" x="401.5" y="576.8">小学部</text>
<text class="cn s" font-size="12" x="470" y="567.3">无线</text>
<text class="md" font-size="13.2" x="473.2" y="581">AP</text>

<text class="cn s" font-size="12" x="730.5" y="359.3">汇聚交换机</text>
<text class="cn s" font-size="12" x="604" y="456.3">接入交换机</text>
<text class="md" font-size="12.1" x="606" y="469.7">DCS-4600</text>
<text class="cn s" font-size="12" x="639.5" y="567.3">广播</text>
<text class="cn s" font-size="12" x="687" y="575.8">初中部</text>
<text class="cn s" font-size="12" x="752.5" y="567.3">无线</text>
<text class="md" font-size="13.2" x="756.5" y="581">AP</text>

<text class="cn s" font-size="12" x="852" y="442.3">接入交换机</text>
<text class="md" font-size="12.1" x="854" y="455.7">DCS-4600</text>
<text class="cn s" font-size="12" x="879.5" y="567.3">广播</text>
<text class="cn s" font-size="12" x="925" y="573.8">教学楼</text>
<text class="cn s" font-size="12" x="990.5" y="567.3">无线</text>
<text class="md" font-size="13.2" x="993.8" y="581.5">AP</text>

<g stroke="#141414" stroke-width="1.7" stroke-dasharray="6.6 5.21" fill="none">
<line x1="0" y1="0.5" x2="1080" y2="0.5" stroke-dashoffset="-6.9" stroke-width="1.3"/>
<line x1="0" y1="607.3" x2="1080" y2="607.3" stroke-dashoffset="-2.3"/>
<line x1="0.6" y1="0" x2="0.6" y2="608" stroke-dashoffset="-10"/>
<line x1="1079.3" y1="0" x2="1079.3" y2="608" stroke-dashoffset="-1.7"/>
</g>

</svg>
</body></html>
